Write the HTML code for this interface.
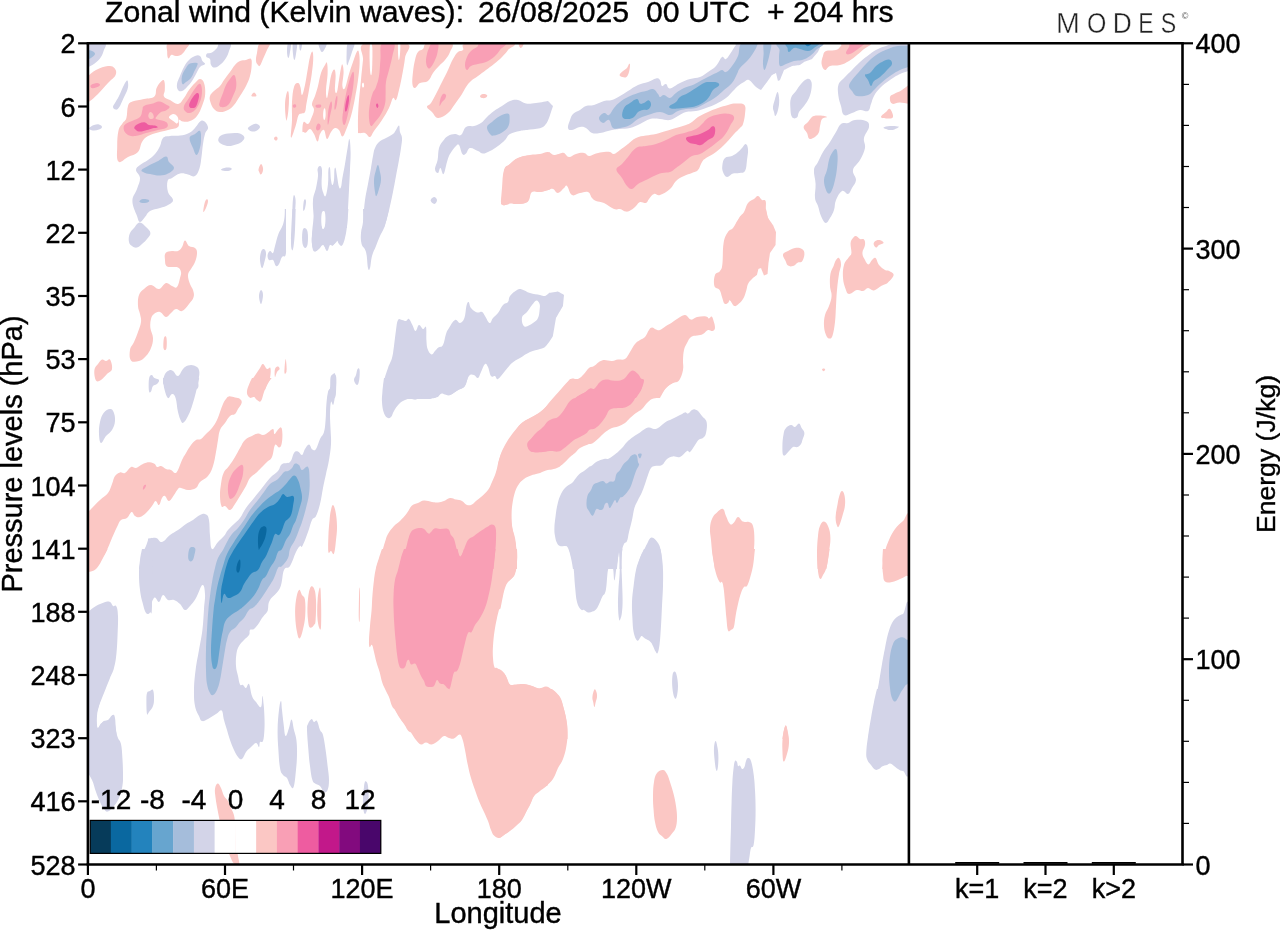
<!DOCTYPE html>
<html><head><meta charset="utf-8"><title>Zonal wind (Kelvin waves)</title>
<style>html,body{margin:0;padding:0;background:#fff;}body{width:1280px;height:930px;overflow:hidden;}svg{display:block;will-change:transform;}text{font-family:"Liberation Sans", sans-serif;fill:#000;stroke:#000;stroke-width:0.4px;}</style></head><body>
<svg width="1280" height="930" viewBox="0 0 1280 930">
<rect width="1280" height="930" fill="#fff"/>
<defs><clipPath id="pc"><rect x="87.9" y="43.3" width="821.0" height="821.2"/></clipPath></defs>
<g clip-path="url(#pc)">
<path d="M86.0 43.0C86.0 43.0 100.9 41.4 104.4 43.0C107.9 44.6 104.6 47.8 103.6 51.0C102.6 54.2 101.8 56.2 99.6 59.0C97.4 61.8 95.1 63.2 92.4 65.0C89.7 66.8 86.0 68.0 86.0 68.0C86.0 68.0 86.0 43.0 86.0 43.0Z" fill="#d3d4e8"/>
<path d="M86.0 78.0C86.0 78.0 91.6 72.4 96.0 70.0C100.4 67.6 104.3 66.4 108.0 66.0C111.7 65.6 112.9 66.2 114.4 68.0C115.9 69.8 116.9 72.0 115.6 75.0C114.3 78.0 111.5 79.2 108.0 83.0C104.5 86.8 101.6 90.4 98.0 94.0C94.4 97.6 92.4 99.2 90.0 101.0C87.6 102.8 86.0 103.0 86.0 103.0C86.0 103.0 86.0 78.0 86.0 78.0Z" fill="#fbc7c4"/>
<path d="M113.0 107.0C113.1 108.3 114.4 109.5 115.6 109.6C116.8 109.7 117.4 109.9 119.0 107.6C120.6 105.3 121.9 101.7 123.6 98.0C125.3 94.3 126.7 92.1 127.6 89.0C128.5 85.9 128.2 84.0 128.0 82.4C127.8 80.8 127.4 80.1 126.4 81.0C125.4 81.9 124.5 84.0 123.0 87.0C121.5 90.0 120.6 92.8 119.0 96.0C117.4 99.2 116.2 100.8 115.0 103.0C113.8 105.2 112.9 105.7 113.0 107.0Z" fill="#d3d4e8"/>
<path d="M89.6 127.6C90.4 126.7 92.1 125.6 94.0 125.0C95.9 124.4 97.4 124.0 99.0 124.4C100.6 124.8 102.0 126.0 102.0 127.0C102.0 128.0 100.6 128.9 99.0 129.6C97.4 130.3 95.8 130.6 94.0 130.6C92.2 130.6 90.9 130.2 90.0 129.6C89.1 129.0 88.8 128.5 89.6 127.6Z" fill="#d3d4e8"/>
<path d="M169.0 43.0C173.2 41.2 184.7 41.7 188.0 43.0C191.3 44.3 186.9 47.3 185.6 49.6C184.3 51.9 183.5 53.1 181.6 54.4C179.7 55.7 178.0 55.9 176.0 56.0C174.0 56.1 173.1 54.3 171.6 54.8C170.1 55.3 169.3 59.0 168.4 58.4C167.5 57.8 167.1 55.1 167.2 52.0C167.3 48.9 164.8 44.8 169.0 43.0Z" fill="#fbc7c4"/>
<path d="M118.4 161.6C116.2 159.4 117.2 152.1 117.2 146.0C117.2 139.9 117.4 135.5 118.4 131.0C119.4 126.5 120.8 126.2 122.4 123.6C124.0 121.0 125.3 121.5 126.4 118.0C127.5 114.5 126.8 109.3 128.0 106.0C129.2 102.7 129.2 103.0 132.4 101.6C135.6 100.2 139.6 100.0 144.0 99.0C148.4 98.0 151.9 98.6 154.4 96.4C156.9 94.2 155.2 91.1 156.6 88.0C158.0 84.9 160.0 82.3 161.6 81.0C163.2 79.7 163.8 79.8 164.4 81.6C165.0 83.4 164.9 87.0 164.8 90.0C164.7 93.0 163.0 94.4 164.0 96.4C165.0 98.4 167.2 98.5 170.0 100.0C172.8 101.5 175.2 104.4 178.0 104.0C180.8 103.6 181.8 100.8 184.0 98.0C186.2 95.2 186.8 93.0 189.0 90.0C191.2 87.0 192.8 85.2 195.0 83.0C197.2 80.8 198.2 79.0 200.0 79.0C201.8 79.0 203.0 80.0 204.0 83.0C205.0 86.0 205.5 89.6 205.2 94.0C204.9 98.4 204.0 100.6 202.4 105.0C200.8 109.4 199.5 112.8 197.0 116.0C194.5 119.2 192.8 119.9 190.0 121.0C187.2 122.1 185.2 121.8 183.0 121.6C180.8 121.4 180.0 118.9 179.0 120.0C178.0 121.1 180.2 125.0 178.0 127.0C175.8 129.0 172.0 128.9 168.0 130.0C164.0 131.1 162.0 131.2 158.0 132.4C154.0 133.6 151.2 134.1 148.0 136.0C144.8 137.9 144.0 138.8 142.0 142.0C140.0 145.2 140.8 149.0 138.0 152.0C135.2 155.0 131.9 155.1 128.0 157.0C124.1 158.9 120.6 163.8 118.4 161.6Z" fill="#fbc7c4"/>
<path d="M178.0 90.0C177.0 88.6 176.6 86.8 177.0 84.0C177.4 81.2 178.6 79.4 180.0 76.0C181.4 72.6 182.2 70.2 184.0 67.0C185.8 63.8 186.8 62.2 189.0 60.0C191.2 57.8 192.8 56.8 195.0 56.0C197.2 55.2 198.5 55.0 200.0 56.0C201.5 57.0 201.4 59.4 202.4 61.0C203.4 62.6 205.5 62.8 205.0 64.0C204.5 65.2 201.8 65.0 200.0 67.0C198.2 69.0 197.6 71.2 196.0 74.0C194.4 76.8 193.8 78.4 192.0 81.0C190.2 83.6 189.0 85.0 187.0 87.0C185.0 89.0 183.8 90.4 182.0 91.0C180.2 91.6 179.0 91.4 178.0 90.0Z" fill="#d3d4e8"/>
<path d="M220.0 43.0C222.7 42.0 228.6 41.4 230.4 43.0C232.2 44.6 229.9 48.0 229.0 51.0C228.1 54.0 227.6 55.4 226.0 58.0C224.4 60.6 223.2 62.1 221.0 64.0C218.8 65.9 217.0 67.4 215.0 67.6C213.0 67.8 212.0 66.7 211.0 65.0C210.0 63.3 210.9 60.6 210.0 59.0C209.1 57.4 207.0 58.1 206.4 57.0C205.8 55.9 205.9 54.5 207.0 53.6C208.1 52.7 210.0 53.5 212.0 52.4C214.0 51.3 215.4 49.9 217.0 48.0C218.6 46.1 217.3 44.0 220.0 43.0Z" fill="#d3d4e8"/>
<path d="M251.0 59.0C252.1 60.2 251.8 62.6 251.6 66.0C251.4 69.4 251.1 72.0 250.0 76.0C248.9 80.0 248.0 82.0 246.0 86.0C244.0 90.0 242.4 92.2 240.0 96.0C237.6 99.8 236.4 102.2 234.0 105.0C231.6 107.8 230.8 108.6 228.0 110.0C225.2 111.4 222.8 112.2 220.0 112.0C217.2 111.8 215.9 111.0 214.0 109.0C212.1 107.0 211.2 104.6 210.4 102.0C209.6 99.4 209.3 98.2 210.0 96.0C210.7 93.8 212.0 93.0 214.0 91.0C216.0 89.0 218.0 88.2 220.0 86.0C222.0 83.8 222.0 82.8 224.0 80.0C226.0 77.2 227.8 75.0 230.0 72.0C232.2 69.0 233.0 67.2 235.0 65.0C237.0 62.8 237.8 62.0 240.0 61.0C242.2 60.0 243.8 60.4 246.0 60.0C248.2 59.6 249.9 57.8 251.0 59.0Z" fill="#fbc7c4"/>
<path d="M260.0 43.0C262.5 41.0 268.2 41.6 269.6 43.0C271.0 44.4 268.3 46.8 267.0 50.0C265.7 53.2 264.4 55.9 263.0 59.0C261.6 62.1 261.0 64.4 260.0 65.6C259.0 66.8 258.8 65.9 258.0 65.0C257.2 64.1 256.2 63.4 256.0 61.0C255.8 58.6 256.2 56.6 257.0 53.0C257.8 49.4 257.5 45.0 260.0 43.0Z" fill="#fbc7c4"/>
<path d="M288.0 43.0C288.8 41.2 290.6 41.2 291.0 43.0C291.4 44.8 290.5 49.0 290.0 52.0C289.5 55.0 289.0 58.0 288.4 58.0C287.8 58.0 287.1 55.0 287.0 52.0C286.9 49.0 287.2 44.8 288.0 43.0Z" fill="#d3d4e8"/>
<path d="M293.0 43.0C293.8 40.8 296.4 40.8 297.0 43.0C297.6 45.2 296.5 50.6 296.0 54.0C295.5 57.4 295.0 60.0 294.4 60.0C293.8 60.0 293.3 57.4 293.0 54.0C292.7 50.6 292.2 45.2 293.0 43.0Z" fill="#d3d4e8"/>
<path d="M299.6 43.0C300.1 41.8 301.7 41.6 302.0 43.0C302.3 44.4 301.5 48.8 301.0 50.0C300.5 51.2 299.9 50.4 299.6 49.0C299.3 47.6 299.1 44.2 299.6 43.0Z" fill="#d3d4e8"/>
<path d="M319.0 43.0C320.3 41.8 325.3 41.7 326.4 43.0C327.5 44.3 325.3 47.8 324.4 49.6C323.5 51.4 322.9 52.1 322.0 52.0C321.1 51.9 320.6 50.8 320.0 49.0C319.4 47.2 317.7 44.2 319.0 43.0Z" fill="#d3d4e8"/>
<path d="M251.4 96.0C250.9 95.3 253.0 92.4 254.0 92.4C255.0 92.4 256.9 95.3 256.4 96.0C255.9 96.7 251.9 96.7 251.4 96.0Z" fill="#fbc7c4"/>
<path d="M218.4 139.0C218.8 137.7 219.1 136.7 221.0 135.6C222.9 134.5 225.0 134.1 228.0 133.6C231.0 133.1 233.4 132.9 236.0 133.0C238.6 133.1 239.3 133.1 241.0 134.0C242.7 134.9 244.3 136.0 244.4 137.6C244.5 139.2 243.3 140.6 241.6 142.0C239.9 143.4 238.5 143.6 236.0 144.4C233.5 145.2 231.7 146.0 229.0 146.0C226.3 146.0 224.4 145.2 222.4 144.4C220.4 143.6 219.8 143.1 219.0 142.0C218.2 140.9 218.0 140.3 218.4 139.0Z" fill="#d3d4e8"/>
<path d="M248.0 128.0C248.5 126.9 250.2 125.8 252.0 125.0C253.8 124.2 255.4 123.6 257.0 124.0C258.6 124.4 260.0 125.7 260.0 127.0C260.0 128.3 258.4 129.5 257.0 130.4C255.6 131.3 254.5 131.6 253.0 131.6C251.5 131.6 250.6 131.1 249.6 130.4C248.6 129.7 247.5 129.1 248.0 128.0Z" fill="#d3d4e8"/>
<path d="M202.0 120.6C204.6 120.4 207.4 124.3 208.0 127.0C208.6 129.7 206.0 130.6 205.0 134.0C204.0 137.4 203.7 139.6 203.0 144.0C202.3 148.4 202.3 151.2 201.6 156.0C200.9 160.8 200.9 164.0 199.6 168.0C198.3 172.0 197.3 174.7 195.0 176.0C192.7 177.3 191.0 174.9 188.0 174.4C185.0 173.9 183.2 172.9 180.0 173.6C176.8 174.3 174.5 176.5 172.0 178.0C169.5 179.5 168.4 178.2 167.6 181.0C166.8 183.8 166.9 188.2 168.0 192.0C169.1 195.8 173.0 197.4 173.0 200.0C173.0 202.6 170.6 203.4 168.0 205.0C165.4 206.6 163.6 206.8 160.0 208.0C156.4 209.2 153.0 209.2 150.0 211.0C147.0 212.8 147.0 214.8 145.0 217.0C143.0 219.2 141.6 222.2 140.0 222.0C138.4 221.8 138.5 220.2 137.0 216.0C135.5 211.8 132.4 206.4 132.4 201.0C132.4 195.6 135.5 193.6 137.0 189.0C138.5 184.4 140.2 181.8 140.0 178.0C139.8 174.2 136.0 172.6 136.0 170.0C136.0 167.4 137.6 167.0 140.0 165.0C142.4 163.0 145.0 162.2 148.0 160.0C151.0 157.8 152.6 156.8 155.0 154.0C157.4 151.2 158.4 149.2 160.0 146.0C161.6 142.8 161.0 140.0 163.0 138.0C165.0 136.0 166.6 136.5 170.0 136.0C173.4 135.5 176.2 136.2 180.0 135.6C183.8 135.0 186.0 134.5 189.0 133.0C192.0 131.5 192.4 130.5 195.0 128.0C197.6 125.5 199.4 120.8 202.0 120.6Z" fill="#d3d4e8"/>
<path d="M203.4 212.0C203.0 211.4 203.8 206.5 204.4 204.0C205.0 201.5 205.7 200.2 206.4 199.6C207.1 199.0 208.0 199.5 208.0 201.0C208.0 202.5 207.3 204.8 206.4 207.0C205.5 209.2 203.8 212.6 203.4 212.0Z" fill="#fbc7c4"/>
<path d="M258.6 169.0C259.0 167.4 260.1 164.2 261.0 164.0C261.9 163.8 262.7 166.3 263.0 168.0C263.3 169.7 262.9 171.1 262.4 172.4C261.9 173.7 261.2 174.5 260.6 174.4C260.0 174.3 259.6 173.1 259.2 172.0C258.8 170.9 258.2 170.6 258.6 169.0Z" fill="#fbc7c4"/>
<path d="M274.0 138.4C274.0 137.6 275.3 136.6 276.0 136.6C276.7 136.6 277.6 137.6 277.6 138.4C277.6 139.2 276.7 140.6 276.0 140.6C275.3 140.6 274.0 139.2 274.0 138.4Z" fill="#fbc7c4"/>
<path d="M221.0 169.6C221.4 168.9 224.9 167.8 227.0 167.6C229.1 167.4 231.0 167.8 231.6 168.4C232.2 169.0 231.3 169.9 230.0 170.4C228.7 170.9 226.8 171.2 225.0 171.0C223.2 170.8 220.6 170.3 221.0 169.6Z" fill="#d3d4e8"/>
<path d="M286.0 119.0C285.6 116.4 285.0 110.6 285.0 106.0C285.0 101.4 285.4 99.0 286.0 96.0C286.6 93.0 287.4 90.6 288.0 91.0C288.6 91.4 288.9 94.2 289.0 98.0C289.1 101.8 288.8 105.8 288.4 110.0C288.0 114.2 287.5 117.2 287.0 119.0C286.5 120.8 286.4 121.6 286.0 119.0Z" fill="#fbc7c4"/>
<path d="M348.0 43.0C349.6 40.8 353.6 41.2 354.4 43.0C355.2 44.8 353.1 48.4 352.0 52.0C350.9 55.6 350.0 58.4 349.0 61.0C348.0 63.6 347.5 66.4 347.0 65.0C346.5 63.6 346.4 58.4 346.6 54.0C346.8 49.6 346.4 45.2 348.0 43.0Z" fill="#d3d4e8"/>
<path d="M291.0 137.6C290.3 136.4 291.8 127.1 292.0 120.0C292.2 112.9 291.6 108.6 292.0 102.0C292.4 95.4 292.8 90.8 294.0 87.0C295.2 83.2 296.7 83.0 298.0 83.0C299.3 83.0 299.6 84.6 300.4 87.0C301.2 89.4 301.1 95.4 302.0 95.0C302.9 94.6 303.9 90.0 305.0 85.0C306.1 80.0 306.6 75.6 307.6 70.0C308.6 64.4 309.0 60.7 310.0 57.0C311.0 53.3 311.8 51.0 312.4 51.6C313.0 52.2 313.4 55.3 313.2 60.0C313.0 64.7 312.4 69.0 311.6 75.0C310.8 81.0 310.0 84.2 309.0 90.0C308.0 95.8 307.2 99.6 306.4 104.0C305.6 108.4 306.0 110.1 305.0 112.0C304.0 113.9 302.9 112.9 301.6 113.6C300.3 114.3 299.6 113.1 298.4 115.6C297.2 118.1 297.1 121.6 295.6 126.0C294.1 130.4 291.7 138.8 291.0 137.6Z" fill="#fbc7c4"/>
<path d="M302.4 131.0C302.4 129.0 302.5 123.4 303.6 122.0C304.7 120.6 306.5 124.6 308.0 124.0C309.5 123.4 309.8 121.8 311.0 119.0C312.2 116.2 313.8 113.0 314.0 110.0C314.2 107.0 311.8 106.8 312.0 104.0C312.2 101.2 313.8 99.6 315.0 96.0C316.2 92.4 316.8 90.6 318.0 86.0C319.2 81.4 319.6 77.2 321.0 73.0C322.4 68.8 323.8 67.0 325.0 65.0C326.2 63.0 326.5 61.2 327.0 63.0C327.5 64.8 327.8 68.6 327.6 74.0C327.4 79.4 326.1 85.2 326.0 90.0C325.9 94.8 326.4 98.4 327.0 98.0C327.6 97.6 328.2 92.4 329.0 88.0C329.8 83.6 330.0 79.7 331.0 76.0C332.0 72.3 333.1 69.8 334.0 69.6C334.9 69.4 335.4 70.9 335.6 75.0C335.8 79.1 334.7 86.6 335.0 90.0C335.3 93.4 336.2 94.0 337.0 92.0C337.8 90.0 338.2 84.8 339.0 80.0C339.8 75.2 340.3 71.1 341.0 68.0C341.7 64.9 341.9 63.6 342.4 64.4C342.9 65.2 343.6 67.7 343.6 72.0C343.6 76.3 342.1 82.8 342.4 86.0C342.7 89.2 343.7 90.4 345.0 88.0C346.3 85.6 347.4 79.2 349.0 74.0C350.6 68.8 351.4 66.5 353.0 62.0C354.6 57.5 355.8 53.4 357.0 51.6C358.2 49.8 358.5 50.5 359.0 53.0C359.5 55.5 359.8 58.6 359.6 64.0C359.4 69.4 358.9 73.2 358.0 80.0C357.1 86.8 356.4 90.8 355.0 98.0C353.6 105.2 352.8 109.6 351.0 116.0C349.2 122.4 347.7 125.9 346.0 130.0C344.3 134.1 343.8 136.4 342.4 136.4C341.0 136.4 340.5 131.7 339.0 130.0C337.5 128.3 336.6 127.6 335.0 128.0C333.4 128.4 332.6 129.8 331.0 132.0C329.4 134.2 328.4 139.4 327.0 139.0C325.6 138.6 325.4 131.0 324.0 130.0C322.6 129.0 321.3 131.7 320.0 134.0C318.7 136.3 318.8 141.6 317.6 141.6C316.4 141.6 315.5 136.5 314.0 134.0C312.5 131.5 311.6 129.3 310.0 129.0C308.4 128.7 307.3 131.8 306.0 132.4C304.7 133.0 304.3 132.3 303.6 132.0C302.9 131.7 302.4 133.0 302.4 131.0Z" fill="#fbc7c4"/>
<path d="M365.0 43.0C373.6 39.6 398.0 40.0 406.0 43.0C414.0 46.0 405.8 51.4 405.0 58.0C404.2 64.6 403.2 69.6 402.0 76.0C400.8 82.4 400.2 85.2 399.0 90.0C397.8 94.8 397.2 98.4 396.0 100.0C394.8 101.6 394.4 96.4 393.0 98.0C391.6 99.6 391.2 103.6 389.0 108.0C386.8 112.4 385.0 115.4 382.0 120.0C379.0 124.6 376.4 127.6 374.0 131.0C371.6 134.4 371.8 136.6 370.0 137.0C368.2 137.4 367.2 133.8 365.0 133.0C362.8 132.2 360.4 133.6 359.0 133.0C357.6 132.4 358.1 135.0 358.0 130.0C357.9 125.0 357.8 118.0 358.4 108.0C359.0 98.0 360.1 89.6 361.0 80.0C361.9 70.4 362.2 67.4 363.0 60.0C363.8 52.6 356.4 46.4 365.0 43.0Z" fill="#fbc7c4"/>
<path d="M428.0 43.0C433.6 41.8 446.6 41.2 451.0 43.0C455.4 44.8 451.2 48.6 450.0 52.0C448.8 55.4 447.2 57.2 445.0 60.0C442.8 62.8 441.4 63.4 439.0 66.0C436.6 68.6 435.2 70.0 433.0 73.0C430.8 76.0 430.6 79.0 428.0 81.0C425.4 83.0 422.6 81.6 420.0 83.0C417.4 84.4 416.5 87.8 415.0 88.0C413.5 88.2 412.8 87.2 412.4 84.0C412.0 80.8 412.5 76.8 413.0 72.0C413.5 67.2 414.0 64.0 415.0 60.0C416.0 56.0 416.4 54.2 418.0 52.0C419.6 49.8 421.0 50.8 423.0 49.0C425.0 47.2 422.4 44.2 428.0 43.0Z" fill="#fbc7c4"/>
<path d="M468.0 43.0C477.8 41.6 504.0 41.6 512.0 43.0C520.0 44.4 510.0 47.2 508.0 50.0C506.0 52.8 504.8 54.2 502.0 57.0C499.2 59.8 497.2 61.4 494.0 64.0C490.8 66.6 489.2 67.6 486.0 70.0C482.8 72.4 481.0 73.8 478.0 76.0C475.0 78.2 473.4 78.8 471.0 81.0C468.6 83.2 467.8 84.4 466.0 87.0C464.2 89.6 464.2 90.6 462.0 94.0C459.8 97.4 457.8 100.2 455.0 104.0C452.2 107.8 451.4 110.2 448.0 113.0C444.6 115.8 441.2 118.2 438.0 118.0C434.8 117.8 434.2 114.2 432.0 112.0C429.8 109.8 427.2 108.8 427.0 107.0C426.8 105.2 429.2 105.6 431.0 103.0C432.8 100.4 433.8 98.2 436.0 94.0C438.2 89.8 439.6 86.8 442.0 82.0C444.4 77.2 445.8 74.6 448.0 70.0C450.2 65.4 451.0 62.6 453.0 59.0C455.0 55.4 456.0 53.8 458.0 52.0C460.0 50.2 461.0 51.8 463.0 50.0C465.0 48.2 458.2 44.4 468.0 43.0Z" fill="#fbc7c4"/>
<path d="M519.0 43.0C519.8 42.2 523.1 42.1 523.6 43.0C524.1 43.9 522.4 46.8 521.6 47.6C520.8 48.4 520.1 47.9 519.6 47.0C519.1 46.1 518.2 43.8 519.0 43.0Z" fill="#fbc7c4"/>
<path d="M480.0 96.0C480.2 95.2 481.6 94.2 483.0 94.0C484.4 93.8 486.4 94.3 487.0 95.0C487.6 95.7 487.0 97.0 486.0 97.6C485.0 98.2 483.2 98.3 482.0 98.0C480.8 97.7 479.8 96.8 480.0 96.0Z" fill="#fbc7c4"/>
<path d="M548.0 101.0C548.0 101.0 540.4 102.5 536.0 103.0C531.6 103.5 529.6 104.2 526.0 103.6C522.4 103.0 521.2 100.5 518.0 100.0C514.8 99.5 513.2 99.8 510.0 101.0C506.8 102.2 505.2 104.0 502.0 106.0C498.8 108.0 497.0 108.8 494.0 111.0C491.0 113.2 489.6 114.6 487.0 117.0C484.4 119.4 483.6 121.2 481.0 123.0C478.4 124.8 477.0 125.2 474.0 126.0C471.0 126.8 468.6 125.2 466.0 127.0C463.4 128.8 463.2 133.6 461.0 135.0C458.8 136.4 457.6 133.8 455.0 134.0C452.4 134.2 450.4 134.6 448.0 136.0C445.6 137.4 444.8 138.6 443.0 141.0C441.2 143.4 440.1 144.2 439.0 148.0C437.9 151.8 438.4 155.8 437.6 160.0C436.8 164.2 434.9 166.4 435.0 169.0C435.1 171.6 436.9 173.2 438.0 173.0C439.1 172.8 439.3 167.8 440.4 168.0C441.5 168.2 442.3 175.2 443.6 174.0C444.9 172.8 445.7 166.0 447.0 162.0C448.3 158.0 448.2 157.2 450.0 154.0C451.8 150.8 454.2 147.8 456.0 146.0C457.8 144.2 457.7 143.4 459.0 145.0C460.3 146.6 461.0 152.3 462.4 154.0C463.8 155.7 464.5 154.8 466.0 153.6C467.5 152.4 467.6 148.5 470.0 148.0C472.4 147.5 475.4 149.9 478.0 151.0C480.6 152.1 480.6 153.6 483.0 153.6C485.4 153.6 487.0 152.5 490.0 151.0C493.0 149.5 495.0 148.2 498.0 146.0C501.0 143.8 502.6 142.4 505.0 140.0C507.4 137.6 507.0 135.8 510.0 134.0C513.0 132.2 516.0 131.9 520.0 131.0C524.0 130.1 525.4 130.4 530.0 129.6C534.6 128.8 539.2 129.3 543.0 127.0C546.8 124.7 549.0 118.0 549.0 118.0C549.0 118.0 553.0 106.0 553.0 106.0C553.0 106.0 548.0 101.0 548.0 101.0Z" fill="#d3d4e8"/>
<path d="M399.0 125.6C399.8 126.0 399.4 129.5 400.0 132.0C400.6 134.5 401.8 134.8 402.0 138.0C402.2 141.2 401.6 143.6 401.0 148.0C400.4 152.4 400.0 154.4 399.0 160.0C398.0 165.6 397.2 169.6 396.0 176.0C394.8 182.4 394.2 186.0 393.0 192.0C391.8 198.0 391.2 200.8 390.0 206.0C388.8 211.2 388.2 213.6 387.0 218.0C385.8 222.4 384.0 228.0 384.0 228.0C384.0 228.0 363.0 228.0 363.0 228.0C363.0 228.0 363.2 221.6 363.6 216.0C364.0 210.4 364.1 206.4 365.0 200.0C365.9 193.6 366.8 190.4 368.0 184.0C369.2 177.6 370.0 173.6 371.0 168.0C372.0 162.4 372.2 160.0 373.0 156.0C373.8 152.0 373.8 150.8 375.0 148.0C376.2 145.2 376.8 144.0 379.0 142.0C381.2 140.0 383.2 139.6 386.0 138.0C388.8 136.4 391.0 135.6 393.0 134.0C395.0 132.4 394.8 131.7 396.0 130.0C397.2 128.3 398.2 125.2 399.0 125.6Z" fill="#d3d4e8"/>
<path d="M349.4 139.0C350.0 139.8 350.5 145.8 350.6 152.0C350.7 158.2 350.3 162.4 350.0 170.0C349.7 177.6 349.4 182.0 349.0 190.0C348.6 198.0 348.4 202.4 348.0 210.0C347.6 217.6 347.0 228.0 347.0 228.0C347.0 228.0 314.0 228.0 314.0 228.0C314.0 228.0 313.8 221.6 313.6 216.0C313.4 210.4 312.5 205.6 313.0 200.0C313.5 194.4 315.0 192.8 316.0 188.0C317.0 183.2 317.7 179.8 318.0 176.0C318.3 172.2 317.2 171.0 317.6 169.0C318.0 167.0 319.1 165.8 320.0 166.0C320.9 166.2 321.7 166.4 322.0 170.0C322.3 173.6 321.4 179.6 321.6 184.0C321.8 188.4 322.2 189.6 323.0 192.0C323.8 194.4 324.6 197.6 325.6 196.0C326.6 194.4 327.4 189.2 328.0 184.0C328.6 178.8 328.0 173.2 328.4 170.0C328.8 166.8 329.5 166.0 330.0 168.0C330.5 170.0 330.5 176.6 331.0 180.0C331.5 183.4 331.8 185.0 332.4 185.0C333.0 185.0 333.6 183.0 334.0 180.0C334.4 177.0 334.1 172.4 334.4 170.0C334.7 167.6 335.1 166.8 335.6 168.0C336.1 169.2 336.3 172.2 337.0 176.0C337.7 179.8 338.2 184.8 339.0 187.0C339.8 189.2 340.3 188.8 341.0 187.0C341.7 185.2 341.6 182.6 342.4 178.0C343.2 173.4 344.0 170.0 345.0 164.0C346.0 158.0 346.7 153.0 347.6 148.0C348.5 143.0 348.8 138.2 349.4 139.0Z" fill="#d3d4e8"/>
<path d="M292.4 228.0C292.4 228.0 292.2 216.5 292.4 210.0C292.6 203.5 293.0 197.6 293.6 195.6C294.2 193.6 295.3 196.3 295.6 200.0C295.9 203.7 295.2 208.4 295.0 214.0C294.8 219.6 294.4 228.0 294.4 228.0C294.4 228.0 292.4 228.0 292.4 228.0Z" fill="#d3d4e8"/>
<path d="M303.2 210.0C303.0 208.3 303.4 202.2 304.0 200.4C304.6 198.6 305.8 199.3 306.0 201.0C306.2 202.7 305.4 207.2 304.8 209.0C304.2 210.8 303.4 211.7 303.2 210.0Z" fill="#d3d4e8"/>
<path d="M430.6 200.6C430.5 199.2 432.7 197.1 434.0 197.0C435.3 196.9 436.9 198.6 437.0 200.0C437.1 201.4 435.7 203.9 434.4 204.0C433.1 204.1 430.7 202.0 430.6 200.6Z" fill="#d3d4e8"/>
<path d="M550.0 152.4C550.0 152.4 540.4 154.4 536.0 155.0C531.6 155.6 531.6 155.0 528.0 155.6C524.4 156.2 521.6 156.3 518.0 158.0C514.4 159.7 512.7 161.6 510.0 164.0C507.3 166.4 505.7 166.0 504.4 170.0C503.1 174.0 504.1 178.8 503.6 184.0C503.1 189.2 502.5 192.4 502.0 196.0C501.5 199.6 500.6 200.1 501.0 202.0C501.4 203.9 502.6 205.4 504.0 205.6C505.4 205.8 505.6 203.3 508.0 203.0C510.4 202.7 512.6 204.0 516.0 204.0C519.4 204.0 522.4 203.8 525.0 203.0C527.6 202.2 527.6 202.2 529.0 200.0C530.4 197.8 529.8 193.6 532.0 192.0C534.2 190.4 536.4 192.5 540.0 192.0C543.6 191.5 550.0 189.6 550.0 189.6C550.0 189.6 550.0 152.4 550.0 152.4Z" fill="#fbc7c4"/>
<path d="M619.6 75.0C619.7 73.8 621.5 72.4 623.0 71.0C624.5 69.6 625.8 69.4 627.0 68.0C628.2 66.6 628.4 64.6 629.0 64.0C629.6 63.4 630.0 63.4 630.0 65.0C630.0 66.6 629.7 69.6 629.0 72.0C628.3 74.4 627.7 76.0 626.4 77.0C625.1 78.0 623.8 77.4 622.4 77.0C621.0 76.6 619.5 76.2 619.6 75.0Z" fill="#fbc7c4"/>
<path d="M568.0 128.0C567.6 126.0 569.0 122.8 570.0 120.0C571.0 117.2 571.0 116.0 573.0 114.0C575.0 112.0 577.4 111.6 580.0 110.0C582.6 108.4 583.2 107.0 586.0 106.0C588.8 105.0 590.4 106.0 594.0 105.0C597.6 104.0 600.4 102.0 604.0 101.0C607.6 100.0 608.8 101.0 612.0 100.0C615.2 99.0 616.8 97.8 620.0 96.0C623.2 94.2 624.4 93.2 628.0 91.0C631.6 88.8 634.0 86.8 638.0 85.0C642.0 83.2 644.4 83.3 648.0 82.0C651.6 80.7 653.6 78.8 656.0 78.4C658.4 78.0 658.8 78.5 660.0 80.0C661.2 81.5 660.8 85.2 662.0 86.0C663.2 86.8 664.4 83.5 666.0 84.0C667.6 84.5 667.2 88.6 670.0 88.4C672.8 88.2 676.0 84.9 680.0 83.0C684.0 81.1 686.0 80.2 690.0 79.0C694.0 77.8 696.4 78.4 700.0 77.0C703.6 75.6 704.8 74.2 708.0 72.0C711.2 69.8 713.2 69.0 716.0 66.0C718.8 63.0 720.0 58.4 722.0 57.0C724.0 55.6 724.0 60.2 726.0 59.0C728.0 57.8 730.0 53.8 732.0 51.0C734.0 48.2 734.4 46.6 736.0 45.0C737.6 43.4 722.8 43.4 740.0 43.0C757.2 42.6 822.0 43.0 822.0 43.0C822.0 43.0 818.0 52.0 818.0 52.0C818.0 52.0 812.0 59.0 812.0 59.0C812.0 59.0 804.0 62.0 804.0 62.0C804.0 62.0 800.0 65.0 800.0 65.0C800.0 65.0 792.0 66.0 792.0 66.0C792.0 66.0 784.0 70.0 784.0 70.0C784.0 70.0 780.0 80.0 780.0 80.0C780.0 80.0 778.0 81.0 778.0 81.0C778.0 81.0 776.0 73.0 776.0 73.0C776.0 73.0 772.0 75.0 772.0 75.0C772.0 75.0 767.0 82.0 767.0 82.0C767.0 82.0 761.0 90.0 761.0 90.0C761.0 90.0 758.4 89.0 756.0 87.0C753.6 85.0 751.4 81.0 749.0 80.0C746.6 79.0 746.2 80.8 744.0 82.0C741.8 83.2 740.0 84.4 738.0 86.0C736.0 87.6 736.4 87.6 734.0 90.0C731.6 92.4 729.6 95.2 726.0 98.0C722.4 100.8 720.0 102.0 716.0 104.0C712.0 106.0 710.0 106.6 706.0 108.0C702.0 109.4 700.0 110.2 696.0 111.0C692.0 111.8 689.6 111.0 686.0 112.0C682.4 113.0 681.2 114.4 678.0 116.0C674.8 117.6 673.6 119.4 670.0 120.0C666.4 120.6 664.0 119.2 660.0 119.0C656.0 118.8 654.0 118.0 650.0 119.0C646.0 120.0 644.0 122.2 640.0 124.0C636.0 125.8 634.0 127.0 630.0 128.0C626.0 129.0 623.6 128.6 620.0 129.0C616.4 129.4 616.0 129.2 612.0 130.0C608.0 130.8 604.0 132.4 600.0 133.0C596.0 133.6 594.8 134.0 592.0 133.0C589.2 132.0 588.4 129.2 586.0 128.0C583.6 126.8 582.8 126.6 580.0 127.0C577.2 127.4 574.4 129.8 572.0 130.0C569.6 130.2 568.4 130.0 568.0 128.0Z" fill="#d3d4e8"/>
<path d="M501.0 203.0C501.0 199.7 501.4 194.6 502.0 188.0C502.6 181.4 502.4 174.8 504.0 170.0C505.6 165.2 507.2 166.4 510.0 164.0C512.8 161.6 514.0 159.8 518.0 158.0C522.0 156.2 525.6 155.8 530.0 155.0C534.4 154.2 536.4 154.6 540.0 154.0C543.6 153.4 545.2 151.8 548.0 152.0C550.8 152.2 551.6 154.7 554.0 155.0C556.4 155.3 558.0 154.0 560.0 153.6C562.0 153.2 562.2 152.3 564.0 153.0C565.8 153.7 566.6 156.8 569.0 157.0C571.4 157.2 573.0 154.8 576.0 154.0C579.0 153.2 581.4 152.6 584.0 153.0C586.6 153.4 586.6 155.9 589.0 156.0C591.4 156.1 593.0 154.4 596.0 153.6C599.0 152.8 601.2 152.3 604.0 152.0C606.8 151.7 608.0 151.6 610.0 152.0C612.0 152.4 612.0 154.4 614.0 154.0C616.0 153.6 617.2 152.0 620.0 150.0C622.8 148.0 624.8 146.4 628.0 144.0C631.2 141.6 632.4 139.7 636.0 138.0C639.6 136.3 642.0 136.4 646.0 135.6C650.0 134.8 652.0 134.9 656.0 134.0C660.0 133.1 662.0 132.2 666.0 131.0C670.0 129.8 672.0 129.2 676.0 128.0C680.0 126.8 682.8 126.2 686.0 125.0C689.2 123.8 689.6 123.6 692.0 122.0C694.4 120.4 694.8 119.0 698.0 117.0C701.2 115.0 704.0 113.8 708.0 112.0C712.0 110.2 714.0 109.4 718.0 108.0C722.0 106.6 724.4 105.9 728.0 105.0C731.6 104.1 732.7 103.6 736.0 103.6C739.3 103.6 742.6 102.9 744.4 105.0C746.2 107.1 745.3 110.2 745.0 114.0C744.7 117.8 744.0 121.2 743.0 124.0C742.0 126.8 741.8 126.0 740.0 128.0C738.2 130.0 736.8 131.0 734.0 134.0C731.2 137.0 729.6 139.4 726.0 143.0C722.4 146.6 720.0 149.0 716.0 152.0C712.0 155.0 708.8 156.0 706.0 158.0C703.2 160.0 703.6 159.6 702.0 162.0C700.4 164.4 700.0 167.8 698.0 170.0C696.0 172.2 694.8 171.8 692.0 173.0C689.2 174.2 687.2 174.4 684.0 176.0C680.8 177.6 678.8 178.4 676.0 181.0C673.2 183.6 673.2 186.2 670.0 189.0C666.8 191.8 663.2 194.0 660.0 195.0C656.8 196.0 656.2 193.2 654.0 194.0C651.8 194.8 650.6 197.2 649.0 199.0C647.4 200.8 647.8 202.4 646.0 203.0C644.2 203.6 642.0 201.4 640.0 202.0C638.0 202.6 637.8 204.4 636.0 206.0C634.2 207.6 633.0 208.9 631.0 210.0C629.0 211.1 628.2 211.8 626.0 211.6C623.8 211.4 622.4 209.5 620.0 209.0C617.6 208.5 617.2 210.2 614.0 209.0C610.8 207.8 607.6 204.6 604.0 203.0C600.4 201.4 598.4 202.0 596.0 201.0C593.6 200.0 593.6 199.8 592.0 198.0C590.4 196.2 590.4 193.0 588.0 192.0C585.6 191.0 583.2 192.4 580.0 193.0C576.8 193.6 574.6 196.4 572.0 195.0C569.4 193.6 568.6 187.4 567.0 186.0C565.4 184.6 565.8 186.6 564.0 188.0C562.2 189.4 560.2 192.8 558.0 193.0C555.8 193.2 555.0 189.6 553.0 189.0C551.0 188.4 550.6 189.4 548.0 190.0C545.4 190.6 543.2 191.8 540.0 192.0C536.8 192.2 534.2 190.0 532.0 191.0C529.8 192.0 530.0 194.8 529.0 197.0C528.0 199.2 528.8 200.6 527.0 202.0C525.2 203.4 523.0 203.8 520.0 204.0C517.0 204.2 514.8 202.8 512.0 203.0C509.2 203.2 508.0 204.7 506.0 205.0C504.0 205.3 503.0 204.8 502.0 204.4C501.0 204.0 501.0 206.3 501.0 203.0Z" fill="#fbc7c4"/>
<path d="M745.6 144.0C746.8 144.2 747.7 145.8 748.0 149.0C748.3 152.2 747.6 155.6 747.0 160.0C746.4 164.4 746.6 168.4 745.0 171.0C743.4 173.6 741.4 172.5 739.0 173.0C736.6 173.5 735.4 172.8 733.0 173.6C730.6 174.4 729.0 177.3 727.0 177.0C725.0 176.7 723.9 174.4 723.0 172.0C722.1 169.6 722.0 167.8 722.4 165.0C722.8 162.2 723.1 159.8 725.0 158.0C726.9 156.2 729.4 157.2 732.0 156.0C734.6 154.8 736.0 153.6 738.0 152.0C740.0 150.4 740.5 149.6 742.0 148.0C743.5 146.4 744.4 143.8 745.6 144.0Z" fill="#d3d4e8"/>
<path d="M844.0 43.0C849.8 42.4 866.0 41.8 870.0 43.0C874.0 44.2 866.6 46.6 864.0 49.0C861.4 51.4 860.0 52.6 857.0 55.0C854.0 57.4 852.4 59.0 849.0 61.0C845.6 63.0 843.8 64.0 840.0 65.0C836.2 66.0 833.0 65.0 830.0 66.0C827.0 67.0 826.7 70.4 825.0 70.0C823.3 69.6 822.0 66.8 821.6 64.0C821.2 61.2 822.1 58.6 823.0 56.0C823.9 53.4 823.4 52.2 826.0 51.0C828.6 49.8 833.0 51.0 836.0 50.0C839.0 49.0 839.4 47.4 841.0 46.0C842.6 44.6 838.2 43.6 844.0 43.0Z" fill="#fbc7c4"/>
<path d="M886.0 46.0C889.6 44.8 890.8 43.6 896.0 43.0C901.2 42.4 912.0 43.0 912.0 43.0C912.0 43.0 912.0 70.0 912.0 70.0C912.0 70.0 904.4 72.0 900.0 74.0C895.6 76.0 894.0 77.2 890.0 80.0C886.0 82.8 883.2 84.8 880.0 88.0C876.8 91.2 875.8 92.8 874.0 96.0C872.2 99.2 872.2 101.0 871.0 104.0C869.8 107.0 870.2 109.8 868.0 111.0C865.8 112.2 863.2 109.6 860.0 110.0C856.8 110.4 855.2 112.0 852.0 113.0C848.8 114.0 846.2 116.4 844.0 115.0C841.8 113.6 842.1 109.8 841.0 106.0C839.9 102.2 838.9 100.2 838.4 96.0C837.9 91.8 837.3 88.6 838.4 85.0C839.5 81.4 841.3 81.0 844.0 78.0C846.7 75.0 848.8 73.2 852.0 70.0C855.2 66.8 856.4 65.2 860.0 62.0C863.6 58.8 866.4 56.6 870.0 54.0C873.6 51.4 874.8 50.6 878.0 49.0C881.2 47.4 882.4 47.2 886.0 46.0Z" fill="#d3d4e8"/>
<path d="M912.0 82.0C912.0 82.0 905.6 87.6 902.0 90.0C898.4 92.4 896.4 92.6 894.0 94.0C891.6 95.4 890.4 95.1 890.0 97.0C889.6 98.9 890.0 102.5 892.0 103.6C894.0 104.7 896.0 102.2 900.0 102.4C904.0 102.6 912.0 104.4 912.0 104.4C912.0 104.4 912.0 82.0 912.0 82.0Z" fill="#fbc7c4"/>
<path d="M881.0 117.0C880.8 115.7 884.2 113.6 886.0 112.0C887.8 110.4 888.6 108.0 890.0 109.0C891.4 110.0 893.6 115.1 893.0 117.0C892.4 118.9 889.4 118.4 887.0 118.4C884.6 118.4 881.2 118.3 881.0 117.0Z" fill="#fbc7c4"/>
<path d="M883.6 127.4C884.4 126.8 887.0 126.2 890.0 126.0C893.0 125.8 897.6 126.0 898.6 126.6C899.6 127.2 896.7 128.5 895.0 129.2C893.3 129.9 891.8 130.0 890.0 130.0C888.2 130.0 887.3 129.5 886.0 129.0C884.7 128.5 882.8 128.0 883.6 127.4Z" fill="#d3d4e8"/>
<path d="M773.0 107.0C773.2 104.4 774.1 102.0 775.0 99.0C775.9 96.0 776.8 91.8 777.6 92.0C778.4 92.2 779.1 96.4 779.2 100.0C779.3 103.6 778.8 106.8 778.0 110.0C777.2 113.2 776.2 115.6 775.4 116.0C774.6 116.4 774.5 113.8 774.0 112.0C773.5 110.2 772.8 109.6 773.0 107.0Z" fill="#d3d4e8"/>
<path d="M807.0 79.0C809.0 78.4 810.1 79.2 811.0 81.0C811.9 82.8 812.0 84.6 811.6 88.0C811.2 91.4 810.5 94.4 809.0 98.0C807.5 101.6 806.0 103.2 804.0 106.0C802.0 108.8 800.4 109.7 799.0 112.0C797.6 114.3 798.4 116.6 797.0 117.6C795.6 118.6 793.3 118.9 792.0 117.0C790.7 115.1 790.6 111.8 790.4 108.0C790.2 104.2 789.9 101.4 791.0 98.0C792.1 94.6 794.0 93.8 796.0 91.0C798.0 88.2 798.8 86.4 801.0 84.0C803.2 81.6 805.0 79.6 807.0 79.0Z" fill="#d3d4e8"/>
<path d="M814.0 116.0C815.8 115.5 817.4 115.4 820.0 115.6C822.6 115.8 826.6 116.3 827.0 117.0C827.4 117.7 823.4 117.2 822.0 119.0C820.6 120.8 820.8 123.0 820.0 126.0C819.2 129.0 820.0 131.4 818.0 134.0C816.0 136.6 812.2 139.2 810.0 139.0C807.8 138.8 808.3 135.4 807.0 133.0C805.7 130.6 803.4 129.2 803.6 127.0C803.8 124.8 806.5 123.8 808.0 122.0C809.5 120.2 809.8 119.2 811.0 118.0C812.2 116.8 812.2 116.5 814.0 116.0Z" fill="#fbc7c4"/>
<path d="M855.0 120.0C858.6 119.6 863.2 119.6 866.0 121.0C868.8 122.4 869.4 123.6 869.0 127.0C868.6 130.4 864.8 133.8 864.0 138.0C863.2 142.2 865.8 143.6 865.0 148.0C864.2 152.4 862.4 155.6 860.0 160.0C857.6 164.4 853.8 166.0 853.0 170.0C852.2 174.0 856.2 176.4 856.0 180.0C855.8 183.6 853.6 185.2 852.0 188.0C850.4 190.8 850.0 193.4 848.0 194.0C846.0 194.6 844.4 189.8 842.0 191.0C839.6 192.2 837.6 196.2 836.0 200.0C834.4 203.8 835.2 206.4 834.0 210.0C832.8 213.6 831.7 215.4 830.0 218.0C828.3 220.6 827.4 223.4 825.6 223.0C823.8 222.6 822.5 219.4 821.0 216.0C819.5 212.6 819.2 209.6 818.0 206.0C816.8 202.4 815.5 202.4 815.0 198.0C814.5 193.6 815.8 189.6 815.6 184.0C815.4 178.4 813.5 174.4 814.0 170.0C814.5 165.6 816.2 165.6 818.0 162.0C819.8 158.4 820.6 156.0 823.0 152.0C825.4 148.0 827.4 146.0 830.0 142.0C832.6 138.0 833.8 135.6 836.0 132.0C838.2 128.4 838.6 125.8 841.0 124.0C843.4 122.2 845.2 123.8 848.0 123.0C850.8 122.2 851.4 120.4 855.0 120.0Z" fill="#d3d4e8"/>
<path d="M758.0 196.0C759.6 196.2 760.5 199.0 762.0 200.0C763.5 201.0 764.8 199.0 765.6 201.0C766.4 203.0 765.5 206.6 766.0 210.0C766.5 213.4 766.9 215.0 768.0 218.0C769.1 221.0 771.2 222.8 771.6 225.0C772.0 227.2 770.0 229.0 770.0 229.0C770.0 229.0 734.0 229.0 734.0 229.0C734.0 229.0 737.0 221.4 739.0 218.0C741.0 214.6 742.2 215.0 744.0 212.0C745.8 209.0 746.0 205.6 748.0 203.0C750.0 200.4 752.0 200.4 754.0 199.0C756.0 197.6 756.4 195.8 758.0 196.0Z" fill="#fbc7c4"/>
<path d="M139.6 222.4C142.0 222.2 143.8 224.9 146.0 227.0C148.2 229.1 150.2 230.6 150.4 233.0C150.6 235.4 148.7 236.8 147.0 239.0C145.3 241.2 144.0 242.3 142.0 244.0C140.0 245.7 139.0 247.2 137.0 247.6C135.0 248.0 133.6 247.1 132.0 246.0C130.4 244.9 129.5 244.4 129.0 242.0C128.5 239.6 128.6 236.8 129.6 234.0C130.6 231.2 132.0 230.3 134.0 228.0C136.0 225.7 137.2 222.6 139.6 222.4Z" fill="#d3d4e8"/>
<path d="M185.0 240.4C186.4 240.2 187.0 244.5 189.0 246.0C191.0 247.5 193.4 246.6 195.0 248.0C196.6 249.4 197.0 250.2 197.0 253.0C197.0 255.8 196.2 258.8 195.0 262.0C193.8 265.2 192.4 266.4 191.0 269.0C189.6 271.6 188.2 272.0 188.0 275.0C187.8 278.0 189.0 281.0 190.0 284.0C191.0 287.0 192.3 287.4 193.0 290.0C193.7 292.6 194.4 294.2 193.6 297.0C192.8 299.8 191.3 301.2 189.0 304.0C186.7 306.8 184.6 310.0 182.0 311.0C179.4 312.0 178.2 308.6 176.0 309.0C173.8 309.4 173.0 311.4 171.0 313.0C169.0 314.6 168.2 317.2 166.0 317.0C163.8 316.8 162.4 312.6 160.0 312.0C157.6 311.4 155.8 312.6 154.0 314.0C152.2 315.4 151.7 316.2 151.0 319.0C150.3 321.8 150.0 324.2 150.4 328.0C150.8 331.8 152.9 334.0 153.0 338.0C153.1 342.0 152.4 344.4 151.0 348.0C149.6 351.6 148.4 353.4 146.0 356.0C143.6 358.6 142.0 360.1 139.0 361.0C136.0 361.9 132.8 362.6 131.0 360.4C129.2 358.2 129.4 353.7 130.0 350.0C130.6 346.3 132.4 345.6 134.0 342.0C135.6 338.4 136.6 336.0 138.0 332.0C139.4 328.0 140.6 325.6 141.0 322.0C141.4 318.4 140.6 317.2 140.0 314.0C139.4 310.8 138.2 309.8 138.0 306.0C137.8 302.2 137.8 298.4 139.0 295.0C140.2 291.6 141.6 291.0 144.0 289.0C146.4 287.0 148.0 285.0 151.0 285.0C154.0 285.0 156.0 289.4 159.0 289.0C162.0 288.6 163.4 283.6 166.0 283.0C168.6 282.4 169.8 285.2 172.0 286.0C174.2 286.8 175.4 288.6 177.0 287.0C178.6 285.4 179.2 281.0 180.0 278.0C180.8 275.0 181.4 274.1 181.0 272.0C180.6 269.9 179.8 268.6 178.0 267.6C176.2 266.6 174.3 267.3 172.0 267.0C169.7 266.7 167.8 267.4 166.4 266.0C165.0 264.6 165.2 262.6 165.0 260.0C164.8 257.4 164.2 254.8 165.6 253.0C167.0 251.2 169.5 251.4 172.0 251.0C174.5 250.6 176.0 251.8 178.0 251.0C180.0 250.2 180.6 249.1 182.0 247.0C183.4 244.9 183.6 240.6 185.0 240.4Z" fill="#fbc7c4"/>
<path d="M163.6 348.6C163.1 346.5 163.4 340.2 164.0 338.0C164.6 335.8 165.9 335.5 166.4 337.6C166.9 339.7 167.0 346.4 166.4 348.6C165.8 350.8 164.1 350.7 163.6 348.6Z" fill="#fbc7c4"/>
<path d="M94.4 370.0C94.8 366.7 96.5 366.1 98.0 364.0C99.5 361.9 100.4 360.2 102.0 359.6C103.6 359.0 104.4 361.0 106.0 361.0C107.6 361.0 108.8 358.0 110.0 359.6C111.2 361.2 112.6 366.1 112.0 369.0C111.4 371.9 109.2 371.8 107.0 374.0C104.8 376.2 103.2 378.7 101.0 380.0C98.8 381.3 97.3 382.4 96.0 380.4C94.7 378.4 94.0 373.3 94.4 370.0Z" fill="#fbc7c4"/>
<path d="M149.0 391.0C148.6 388.5 148.5 382.2 149.0 379.0C149.5 375.8 150.5 375.2 151.6 375.0C152.7 374.8 152.9 377.0 154.4 378.0C155.9 379.0 158.5 378.8 159.0 380.0C159.5 381.2 158.2 382.8 157.0 384.0C155.8 385.2 154.2 384.5 153.0 386.0C151.8 387.5 151.8 390.6 151.0 391.6C150.2 392.6 149.4 393.5 149.0 391.0Z" fill="#d3d4e8"/>
<path d="M163.0 382.0C163.0 379.6 163.8 376.3 165.0 374.0C166.2 371.7 167.4 371.0 169.0 370.4C170.6 369.8 171.2 369.9 173.0 371.0C174.8 372.1 176.0 376.4 178.0 376.0C180.0 375.6 181.0 371.1 183.0 369.0C185.0 366.9 185.8 366.3 188.0 365.6C190.2 364.9 191.8 364.7 194.0 365.6C196.2 366.5 198.1 367.1 199.0 370.0C199.9 372.9 199.2 376.0 198.4 380.0C197.6 384.0 200.7 388.0 195.0 390.0C189.3 392.0 176.0 390.8 170.0 390.0C164.0 389.2 166.4 387.6 165.0 386.0C163.6 384.4 163.0 384.4 163.0 382.0Z" fill="#d3d4e8"/>
<path d="M263.0 364.0C264.4 364.2 265.5 368.2 267.0 369.0C268.5 369.8 269.8 366.2 270.4 368.0C271.0 369.8 270.7 374.6 270.0 378.0C269.3 381.4 268.0 382.6 267.0 385.0C266.0 387.4 265.0 390.0 265.0 390.0C265.0 390.0 248.4 390.0 248.4 390.0C248.4 390.0 249.5 385.2 251.0 382.0C252.5 378.8 254.2 376.8 256.0 374.0C257.8 371.2 258.6 370.0 260.0 368.0C261.4 366.0 261.6 363.8 263.0 364.0Z" fill="#fbc7c4"/>
<path d="M275.0 377.0C274.6 376.4 274.4 371.1 275.0 369.0C275.6 366.9 277.1 366.4 278.0 366.4C278.9 366.4 279.8 367.9 279.6 369.0C279.4 370.1 277.9 370.4 277.0 372.0C276.1 373.6 275.4 377.6 275.0 377.0Z" fill="#fbc7c4"/>
<path d="M284.4 372.0C284.3 369.2 285.2 359.8 285.6 359.0C286.0 358.2 286.5 365.2 286.6 368.0C286.7 370.8 286.4 372.2 286.0 373.0C285.6 373.8 284.5 374.8 284.4 372.0Z" fill="#fbc7c4"/>
<path d="M260.0 260.0C259.8 256.8 260.3 254.2 261.0 252.0C261.7 249.8 262.6 248.8 263.6 249.0C264.6 249.2 265.8 250.4 266.0 253.0C266.2 255.6 265.2 259.0 264.4 262.0C263.6 265.0 262.9 268.4 262.0 268.0C261.1 267.6 260.2 263.2 260.0 260.0Z" fill="#d3d4e8"/>
<path d="M267.6 255.0C267.8 253.2 268.9 251.4 270.0 251.0C271.1 250.6 272.0 254.0 273.0 253.0C274.0 252.0 273.9 249.8 275.0 246.0C276.1 242.2 276.9 238.0 278.4 234.0C279.9 230.0 281.2 229.2 282.4 226.0C283.6 222.8 283.9 221.4 284.4 218.0C284.9 214.6 284.8 209.0 284.8 209.0C284.8 209.0 286.0 209.0 286.0 209.0C286.0 209.0 286.1 232.8 286.0 242.0C285.9 251.2 286.4 252.0 285.6 255.0C284.8 258.0 283.3 255.2 282.0 257.0C280.7 258.8 280.2 262.2 279.0 264.0C277.8 265.8 277.2 266.8 276.0 266.0C274.8 265.2 274.4 261.2 273.0 260.0C271.6 258.8 270.1 261.0 269.0 260.0C267.9 259.0 267.4 256.8 267.6 255.0Z" fill="#d3d4e8"/>
<path d="M292.4 209.0C292.4 209.0 295.6 209.0 295.6 209.0C295.6 209.0 295.4 222.6 295.0 230.0C294.6 237.4 294.2 242.0 293.6 246.0C293.0 250.0 292.5 251.2 292.0 250.0C291.5 248.8 290.9 248.2 291.0 240.0C291.1 231.8 292.4 209.0 292.4 209.0Z" fill="#d3d4e8"/>
<path d="M302.4 243.0C301.9 239.8 302.0 235.0 302.4 232.0C302.8 229.0 303.4 228.0 304.4 228.0C305.4 228.0 307.0 228.8 307.6 232.0C308.2 235.2 308.1 240.8 307.6 244.0C307.1 247.2 306.0 248.2 305.0 248.0C304.0 247.8 302.9 246.2 302.4 243.0Z" fill="#d3d4e8"/>
<path d="M315.0 209.0C315.0 209.0 338.0 209.0 338.0 209.0C338.0 209.0 338.0 240.0 338.0 240.0C338.0 240.0 335.0 244.2 333.0 245.0C331.0 245.8 329.2 243.0 328.0 244.0C326.8 245.0 328.0 249.8 327.0 250.0C326.0 250.2 324.6 245.2 323.0 245.0C321.4 244.8 320.6 247.8 319.0 249.0C317.4 250.2 316.4 252.0 315.0 251.0C313.6 250.0 312.5 248.2 312.0 244.0C311.5 239.8 311.8 237.0 312.4 230.0C313.0 223.0 315.0 209.0 315.0 209.0Z" fill="#d3d4e8"/>
<path d="M259.0 296.0C259.0 293.2 260.2 290.2 261.0 290.0C261.8 289.8 263.0 292.2 263.0 295.0C263.0 297.8 261.8 303.8 261.0 304.0C260.2 304.2 259.0 298.8 259.0 296.0Z" fill="#d3d4e8"/>
<path d="M314.0 209.0C314.0 209.0 348.4 209.0 348.4 209.0C348.4 209.0 347.7 220.2 347.0 226.0C346.3 231.8 346.0 234.1 345.0 238.0C344.0 241.9 343.2 244.4 342.0 245.6C340.8 246.8 340.1 245.1 339.0 244.0C337.9 242.9 337.6 239.7 336.4 240.0C335.2 240.3 334.3 244.6 333.0 245.6C331.7 246.6 331.2 243.9 330.0 245.0C328.8 246.1 328.4 251.2 327.0 251.0C325.6 250.8 324.4 244.8 323.0 244.0C321.6 243.2 321.7 245.5 320.0 247.0C318.3 248.5 316.0 252.2 314.4 251.6C312.8 251.0 312.4 247.9 312.0 244.0C311.6 240.1 311.9 236.4 312.4 232.0C312.9 227.6 314.1 226.6 314.4 222.0C314.7 217.4 314.0 209.0 314.0 209.0Z" fill="#d3d4e8"/>
<path d="M363.0 209.0C363.0 209.0 389.0 209.0 389.0 209.0C389.0 209.0 388.0 214.2 387.0 218.0C386.0 221.8 385.4 224.4 384.0 228.0C382.6 231.6 381.6 232.4 380.0 236.0C378.4 239.6 377.6 242.0 376.0 246.0C374.4 250.0 373.2 251.6 372.0 256.0C370.8 260.4 370.8 265.6 370.0 268.0C369.2 270.4 368.8 271.2 368.0 268.0C367.2 264.8 367.3 256.8 366.0 252.0C364.7 247.2 362.6 247.8 361.6 244.0C360.6 240.2 360.7 237.4 361.0 233.0C361.3 228.6 362.6 226.8 363.0 222.0C363.4 217.2 363.0 209.0 363.0 209.0Z" fill="#d3d4e8"/>
<path d="M398.0 320.0C399.2 318.0 400.4 319.8 402.0 320.0C403.6 320.2 404.6 321.2 406.0 321.0C407.4 320.8 407.7 318.2 409.0 319.0C410.3 319.8 411.1 322.6 412.4 325.0C413.7 327.4 414.3 331.0 415.6 331.0C416.9 331.0 417.5 325.4 419.0 325.0C420.5 324.6 421.6 328.6 423.0 329.0C424.4 329.4 425.3 324.8 426.0 327.0C426.7 329.2 426.1 335.6 426.4 340.0C426.7 344.4 426.6 346.1 427.6 349.0C428.6 351.9 430.1 354.0 431.6 354.4C433.1 354.8 433.6 352.4 435.0 351.0C436.4 349.6 436.8 348.8 438.4 347.6C440.0 346.4 441.5 347.7 443.0 345.0C444.5 342.3 444.8 337.4 446.0 334.0C447.2 330.6 447.2 330.8 449.0 328.0C450.8 325.2 452.8 321.0 455.0 320.0C457.2 319.0 458.1 323.4 460.0 323.0C461.9 322.6 463.1 321.4 464.4 318.0C465.7 314.6 465.6 309.2 466.4 306.0C467.2 302.8 467.7 301.6 468.6 302.0C469.5 302.4 469.3 305.9 471.0 308.0C472.7 310.1 474.8 311.6 477.0 312.4C479.2 313.2 480.4 311.3 482.0 312.0C483.6 312.7 483.5 313.8 485.0 316.0C486.5 318.2 488.0 322.6 489.6 323.0C491.2 323.4 491.3 320.0 493.0 318.0C494.7 316.0 496.0 315.6 498.0 313.0C500.0 310.4 501.0 307.2 503.0 305.0C505.0 302.8 506.6 303.8 508.0 302.0C509.4 300.2 508.2 298.4 510.0 296.0C511.8 293.6 514.6 291.3 517.0 290.0C519.4 288.7 519.4 288.8 522.0 289.4C524.6 290.0 526.4 291.9 530.0 293.0C533.6 294.1 537.0 294.4 540.0 295.0C543.0 295.6 543.2 296.4 545.0 296.0C546.8 295.6 549.0 293.0 549.0 293.0C549.0 293.0 558.0 291.6 558.0 291.6C558.0 291.6 564.0 295.0 564.0 295.0C564.0 295.0 563.0 306.0 563.0 306.0C563.0 306.0 556.0 318.0 556.0 318.0C556.0 318.0 553.0 336.0 553.0 336.0C553.0 336.0 548.6 343.4 546.0 346.0C543.4 348.6 543.2 347.8 540.0 349.0C536.8 350.2 534.0 350.2 530.0 352.0C526.0 353.8 523.6 355.8 520.0 358.0C516.4 360.2 515.0 360.4 512.0 363.0C509.0 365.6 507.8 367.8 505.0 371.0C502.2 374.2 500.0 378.0 498.0 379.0C496.0 380.0 496.4 376.6 495.0 376.0C493.6 375.4 492.4 377.8 491.0 376.0C489.6 374.2 489.2 369.4 488.0 367.0C486.8 364.6 486.4 363.0 485.0 364.0C483.6 365.0 482.4 369.2 481.0 372.0C479.6 374.8 479.4 377.4 478.0 378.0C476.6 378.6 475.8 375.4 474.0 375.0C472.2 374.6 470.8 373.8 469.0 376.0C467.2 378.2 466.8 383.4 465.0 386.0C463.2 388.6 463.0 387.2 460.0 389.0C457.0 390.8 452.8 394.0 450.0 395.0C447.2 396.0 447.6 394.4 446.0 394.0C444.4 393.6 443.6 392.4 442.0 393.0C440.4 393.6 438.0 397.0 438.0 397.0C438.0 397.0 430.0 399.0 430.0 399.0C430.0 399.0 383.0 399.0 383.0 399.0C383.0 399.0 383.0 388.2 384.0 382.0C385.0 375.8 386.4 372.8 388.0 368.0C389.6 363.2 390.8 362.4 392.0 358.0C393.2 353.6 393.2 351.6 394.0 346.0C394.8 340.4 395.2 335.2 396.0 330.0C396.8 324.8 396.8 322.0 398.0 320.0Z" fill="#d3d4e8"/>
<path d="M354.0 380.0C353.8 378.0 355.3 377.2 356.0 375.0C356.7 372.8 356.9 370.0 357.6 369.0C358.3 368.0 359.3 367.8 359.6 370.0C359.9 372.2 359.7 377.0 359.2 380.0C358.7 383.0 358.0 385.0 357.0 385.0C356.0 385.0 354.2 382.0 354.0 380.0Z" fill="#d3d4e8"/>
<path d="M327.6 398.0C327.6 398.0 328.3 392.0 329.0 390.0C329.7 388.0 330.4 390.4 331.0 388.0C331.6 385.6 331.3 381.0 332.0 378.0C332.7 375.0 333.6 372.6 334.4 373.0C335.2 373.4 335.7 376.2 336.0 380.0C336.3 383.8 336.2 388.4 336.0 392.0C335.8 395.6 335.0 398.0 335.0 398.0C335.0 398.0 327.6 398.0 327.6 398.0Z" fill="#d3d4e8"/>
<path d="M746.0 209.0C746.0 209.0 744.6 214.8 743.0 217.0C741.4 219.2 740.0 217.8 738.0 220.0C736.0 222.2 735.0 225.6 733.0 228.0C731.0 230.4 729.9 229.0 728.0 232.0C726.1 235.0 724.7 236.6 723.6 243.0C722.5 249.4 723.1 258.4 722.4 264.0C721.7 269.6 721.5 268.8 720.0 271.0C718.5 273.2 716.1 272.0 715.0 275.0C713.9 278.0 713.5 283.0 714.4 286.0C715.3 289.0 718.1 287.8 719.6 290.0C721.1 292.2 721.0 294.3 722.0 297.0C723.0 299.7 723.2 302.4 724.4 303.6C725.6 304.8 726.9 303.6 728.0 303.0C729.1 302.4 728.7 299.8 730.0 300.4C731.3 301.0 732.6 305.4 734.4 306.0C736.2 306.6 737.2 305.2 739.0 303.6C740.8 302.0 742.1 300.7 743.6 298.0C745.1 295.3 745.5 292.8 746.4 290.0C747.3 287.2 746.9 286.2 748.0 284.0C749.1 281.8 750.2 280.8 752.0 279.0C753.8 277.2 757.0 275.0 757.0 275.0C757.0 275.0 758.4 269.0 758.4 269.0C758.4 269.0 761.0 268.0 761.0 268.0C761.0 268.0 764.0 275.6 764.0 275.6C764.0 275.6 767.6 274.0 767.6 274.0C767.6 274.0 768.4 264.0 768.4 264.0C768.4 264.0 770.0 253.0 770.0 253.0C770.0 253.0 775.6 245.0 775.6 245.0C775.6 245.0 776.0 232.0 776.0 232.0C776.0 232.0 773.0 225.0 773.0 225.0C773.0 225.0 768.0 218.0 768.0 218.0C768.0 218.0 766.0 209.0 766.0 209.0C766.0 209.0 746.0 209.0 746.0 209.0Z" fill="#fbc7c4"/>
<path d="M556.0 396.0C558.0 393.8 561.0 390.4 564.0 387.0C567.0 383.6 568.2 380.6 571.0 379.0C573.8 377.4 575.4 380.0 578.0 379.0C580.6 378.0 581.8 376.2 584.0 374.0C586.2 371.8 587.0 369.6 589.0 368.0C591.0 366.4 591.4 367.5 594.0 366.0C596.6 364.5 598.4 361.4 602.0 360.4C605.6 359.4 608.8 361.2 612.0 361.0C615.2 360.8 615.4 360.0 618.0 359.6C620.6 359.2 622.6 360.5 625.0 359.0C627.4 357.5 628.0 355.0 630.0 352.0C632.0 349.0 633.0 346.4 635.0 344.0C637.0 341.6 638.0 341.4 640.0 340.0C642.0 338.6 643.2 339.0 645.0 337.0C646.8 335.0 647.6 331.9 649.0 330.0C650.4 328.1 650.6 327.7 652.0 327.6C653.4 327.5 654.4 329.1 656.0 329.6C657.6 330.1 658.0 330.7 660.0 330.0C662.0 329.3 663.6 327.5 666.0 326.0C668.4 324.5 669.8 323.8 672.0 322.4C674.2 321.0 674.4 320.5 677.0 319.0C679.6 317.5 682.2 314.9 685.0 315.0C687.8 315.1 688.6 319.2 691.0 319.6C693.4 320.0 694.0 317.6 697.0 317.0C700.0 316.4 703.6 316.1 706.0 316.4C708.4 316.7 707.9 318.4 709.0 318.4C710.1 318.4 710.7 316.1 711.6 316.6C712.5 317.1 712.9 318.7 713.6 321.0C714.3 323.3 715.2 326.0 715.0 328.0C714.8 330.0 713.8 330.6 712.4 331.0C711.0 331.4 709.9 329.4 708.0 330.0C706.1 330.6 705.2 332.9 703.0 334.0C700.8 335.1 699.4 335.0 697.0 335.6C694.6 336.2 693.0 335.5 691.0 337.0C689.0 338.5 688.4 340.4 687.0 343.0C685.6 345.6 684.8 346.6 684.0 350.0C683.2 353.4 683.2 356.0 683.0 360.0C682.8 364.0 683.8 365.9 683.0 370.0C682.2 374.1 681.0 377.8 679.0 380.4C677.0 383.0 675.6 381.5 673.0 383.0C670.4 384.5 668.6 385.0 666.0 388.0C663.4 391.0 660.0 398.0 660.0 398.0C660.0 398.0 554.0 398.0 554.0 398.0C554.0 398.0 554.0 398.2 556.0 396.0Z" fill="#fbc7c4"/>
<path d="M783.0 254.4C783.5 252.4 785.6 252.3 788.0 251.0C790.4 249.7 792.2 248.4 795.0 248.0C797.8 247.6 800.1 247.8 802.0 249.0C803.9 250.2 804.4 251.5 804.4 254.0C804.4 256.5 803.3 259.9 802.0 261.6C800.7 263.3 799.8 261.5 798.0 262.4C796.2 263.3 795.0 265.4 793.0 266.0C791.0 266.6 789.5 266.6 788.0 265.6C786.5 264.6 786.6 263.2 785.6 261.0C784.6 258.8 782.5 256.4 783.0 254.4Z" fill="#fbc7c4"/>
<path d="M856.0 236.0C857.4 236.2 858.4 238.3 860.0 239.0C861.6 239.7 863.0 238.4 864.0 239.6C865.0 240.8 865.3 242.3 865.0 245.0C864.7 247.7 862.4 250.0 862.4 253.0C862.4 256.0 863.8 257.7 865.0 260.0C866.2 262.3 867.0 264.4 868.4 264.4C869.8 264.4 870.6 261.3 872.0 260.0C873.4 258.7 874.2 257.0 875.6 258.0C877.0 259.0 877.1 262.6 879.0 265.0C880.9 267.4 883.0 268.8 885.0 270.0C887.0 271.2 887.3 270.0 889.0 271.0C890.7 272.0 893.8 272.7 893.6 275.0C893.4 277.3 890.3 280.3 888.0 282.4C885.7 284.5 884.8 284.0 882.0 285.6C879.2 287.2 876.8 289.9 874.0 290.4C871.2 290.9 870.2 287.9 868.0 288.0C865.8 288.1 865.2 290.6 863.0 291.0C860.8 291.4 859.8 289.4 857.0 290.0C854.2 290.6 851.3 294.2 849.0 294.0C846.7 293.8 846.8 292.2 845.6 289.0C844.4 285.8 843.3 282.8 843.0 278.0C842.7 273.2 842.8 269.2 844.0 265.0C845.2 260.8 847.5 259.4 849.0 257.0C850.5 254.6 851.1 255.8 851.4 253.0C851.7 250.2 850.3 246.0 850.6 243.0C850.9 240.0 851.9 239.4 853.0 238.0C854.1 236.6 854.6 235.8 856.0 236.0Z" fill="#fbc7c4"/>
<path d="M873.6 243.6C873.7 242.2 874.9 241.0 876.4 240.4C877.9 239.8 879.6 239.9 881.0 240.4C882.4 240.9 884.0 242.1 883.6 243.0C883.2 243.9 880.5 244.1 879.0 245.0C877.5 245.9 877.1 247.9 876.0 247.6C874.9 247.3 873.5 245.0 873.6 243.6Z" fill="#fbc7c4"/>
<path d="M839.0 258.0C840.0 258.9 841.0 261.2 841.0 264.4C841.0 267.6 839.8 268.9 839.0 274.0C838.2 279.1 837.6 283.6 837.0 290.0C836.4 296.4 836.4 299.6 836.0 306.0C835.6 312.4 835.7 316.0 835.0 322.0C834.3 328.0 833.6 332.7 832.4 336.0C831.2 339.3 830.3 338.6 829.0 338.4C827.7 338.2 827.0 337.5 826.0 335.0C825.0 332.5 824.2 330.0 824.0 326.0C823.8 322.0 824.0 319.0 825.0 315.0C826.0 311.0 827.7 309.8 829.0 306.0C830.3 302.2 831.4 300.0 831.6 296.0C831.8 292.0 830.2 290.4 830.0 286.0C829.8 281.6 829.7 278.0 830.4 274.0C831.1 270.0 832.5 268.8 833.6 266.0C834.7 263.2 834.9 261.6 836.0 260.0C837.1 258.4 838.0 257.1 839.0 258.0Z" fill="#fbc7c4"/>
<path d="M822.0 369.6C822.0 369.1 823.0 368.6 823.6 368.6C824.2 368.6 825.2 369.1 825.2 369.6C825.2 370.1 824.2 371.2 823.6 371.2C823.0 371.2 822.0 370.1 822.0 369.6Z" fill="#fbc7c4"/>
<path d="M163.0 378.0C163.0 378.0 163.4 385.0 164.4 389.0C165.4 393.0 166.5 397.0 168.0 398.0C169.5 399.0 170.5 394.0 172.0 394.0C173.5 394.0 174.4 394.4 175.6 398.0C176.8 401.6 176.9 407.4 178.0 412.0C179.1 416.6 179.9 418.9 181.0 421.0C182.1 423.1 182.2 423.6 183.6 422.6C185.0 421.6 186.3 419.3 188.0 416.0C189.7 412.7 190.4 410.8 192.0 406.0C193.6 401.2 194.6 397.6 196.0 392.0C197.4 386.4 199.2 378.0 199.2 378.0C199.2 378.0 163.0 378.0 163.0 378.0Z" fill="#d3d4e8"/>
<path d="M110.0 409.0C112.0 408.8 112.6 409.6 113.6 412.0C114.6 414.4 115.3 417.4 115.0 421.0C114.7 424.6 113.8 427.0 112.0 430.0C110.2 433.0 108.2 433.4 106.0 436.0C103.8 438.6 102.4 443.4 101.0 443.0C99.6 442.6 99.2 438.2 99.0 434.0C98.8 429.8 99.1 426.2 100.0 422.0C100.9 417.8 101.6 415.6 103.6 413.0C105.6 410.4 108.0 409.2 110.0 409.0Z" fill="#d3d4e8"/>
<path d="M252.0 378.0C252.0 378.0 247.5 387.1 247.0 391.0C246.5 394.9 248.2 396.4 249.6 397.6C251.0 398.8 252.5 396.5 254.0 397.0C255.5 397.5 255.6 399.2 257.0 400.0C258.4 400.8 259.6 402.6 261.0 401.0C262.4 399.4 262.8 395.2 264.0 392.0C265.2 388.8 265.5 387.8 267.0 385.0C268.5 382.2 271.6 378.0 271.6 378.0C271.6 378.0 252.0 378.0 252.0 378.0Z" fill="#fbc7c4"/>
<path d="M229.0 396.4C230.8 396.1 232.8 397.1 235.0 397.6C237.2 398.1 238.7 397.9 240.0 399.0C241.3 400.1 242.0 401.0 241.6 403.0C241.2 405.0 239.3 406.8 238.0 409.0C236.7 411.2 236.6 412.6 235.0 414.0C233.4 415.4 232.0 414.2 230.0 416.0C228.0 417.8 227.0 420.2 225.0 423.0C223.0 425.8 221.4 426.6 220.0 430.0C218.6 433.4 218.8 435.6 218.0 440.0C217.2 444.4 217.0 446.8 216.0 452.0C215.0 457.2 214.6 461.2 213.0 466.0C211.4 470.8 210.6 472.8 208.0 476.0C205.4 479.2 202.4 479.6 200.0 482.0C197.6 484.4 198.4 486.4 196.0 488.0C193.6 489.6 191.0 490.0 188.0 490.0C185.0 490.0 183.0 488.2 181.0 488.0C179.0 487.8 179.4 487.6 178.0 489.0C176.6 490.4 175.8 492.6 174.0 495.0C172.2 497.4 170.8 500.8 169.0 501.0C167.2 501.2 166.4 496.6 165.0 496.0C163.6 495.4 163.2 496.2 162.0 498.0C160.8 499.8 160.3 504.4 159.0 505.0C157.7 505.6 157.0 500.8 155.6 501.0C154.2 501.2 153.9 503.6 152.0 506.0C150.1 508.4 148.4 510.8 146.0 513.0C143.6 515.2 142.2 516.4 140.0 517.0C137.8 517.6 136.7 517.0 135.0 516.0C133.3 515.0 133.2 511.6 131.6 512.0C130.0 512.4 129.1 516.4 127.0 518.0C124.9 519.6 123.0 518.2 121.0 520.0C119.0 521.8 118.8 523.4 117.0 527.0C115.2 530.6 114.2 533.0 112.0 538.0C109.8 543.0 108.4 547.4 106.0 552.0C103.6 556.6 102.0 557.8 100.0 561.0C98.0 564.2 96.0 568.0 96.0 568.0C96.0 568.0 86.0 568.0 86.0 568.0C86.0 568.0 86.0 514.0 86.0 514.0C86.0 514.0 89.2 510.8 92.0 508.0C94.8 505.2 96.8 503.0 100.0 500.0C103.2 497.0 105.6 496.2 108.0 493.0C110.4 489.8 110.6 487.4 112.0 484.0C113.4 480.6 113.4 478.3 115.0 476.0C116.6 473.7 118.0 473.0 120.0 472.4C122.0 471.8 122.8 474.1 125.0 473.0C127.2 471.9 128.8 468.0 131.0 467.0C133.2 466.0 134.0 468.4 136.0 468.0C138.0 467.6 138.8 466.1 141.0 465.0C143.2 463.9 144.4 462.7 147.0 462.4C149.6 462.1 152.0 462.7 154.0 463.6C156.0 464.5 155.6 466.5 157.0 467.0C158.4 467.5 159.2 465.6 161.0 466.0C162.8 466.4 164.0 468.2 166.0 469.0C168.0 469.8 169.2 469.2 171.0 470.0C172.8 470.8 173.6 473.0 175.0 473.0C176.4 473.0 176.6 472.6 178.0 470.0C179.4 467.4 180.4 463.4 182.0 460.0C183.6 456.6 184.2 456.0 186.0 453.0C187.8 450.0 189.0 447.6 191.0 445.0C193.0 442.4 194.0 441.2 196.0 440.0C198.0 438.8 199.0 440.2 201.0 439.0C203.0 437.8 203.8 436.2 206.0 434.0C208.2 431.8 209.8 430.8 212.0 428.0C214.2 425.2 215.4 423.2 217.0 420.0C218.6 416.8 218.8 415.2 220.0 412.0C221.2 408.8 221.8 406.6 223.0 404.0C224.2 401.4 224.8 400.5 226.0 399.0C227.2 397.5 227.2 396.7 229.0 396.4Z" fill="#fbc7c4"/>
<path d="M281.0 427.4C282.1 428.0 282.3 430.7 282.4 434.0C282.5 437.3 282.3 441.3 281.6 444.0C280.9 446.7 280.3 447.4 279.0 447.6C277.7 447.8 276.4 443.1 275.0 445.0C273.6 446.9 273.6 453.6 272.0 457.0C270.4 460.4 269.2 459.8 267.0 462.0C264.8 464.2 263.2 465.8 261.0 468.0C258.8 470.2 258.2 471.0 256.0 473.0C253.8 475.0 252.0 475.4 250.0 478.0C248.0 480.6 248.0 482.4 246.0 486.0C244.0 489.6 242.2 492.4 240.0 496.0C237.8 499.6 237.0 501.2 235.0 504.0C233.0 506.8 232.0 509.6 230.0 510.0C228.0 510.4 226.7 506.7 225.0 506.0C223.3 505.3 222.6 508.4 221.6 506.4C220.6 504.4 220.1 500.5 220.0 496.0C219.9 491.5 220.3 488.6 221.0 484.0C221.7 479.4 222.0 476.6 223.6 473.0C225.2 469.4 226.7 469.2 229.0 466.0C231.3 462.8 232.8 460.6 235.0 457.0C237.2 453.4 238.0 451.4 240.0 448.0C242.0 444.6 242.6 442.4 245.0 440.0C247.4 437.6 249.4 437.3 252.0 436.0C254.6 434.7 255.8 433.8 258.0 433.6C260.2 433.4 261.0 435.2 263.0 435.0C265.0 434.8 266.0 433.6 268.0 432.4C270.0 431.2 271.7 428.7 273.0 429.0C274.3 429.3 273.6 433.6 274.4 434.0C275.2 434.4 275.7 432.3 277.0 431.0C278.3 429.7 279.9 426.8 281.0 427.4Z" fill="#fbc7c4"/>
<path d="M148.0 539.0C148.0 539.0 153.2 537.4 156.0 538.0C158.8 538.6 159.2 542.6 162.0 542.0C164.8 541.4 166.8 537.4 170.0 535.0C173.2 532.6 174.8 532.2 178.0 530.0C181.2 527.8 183.0 526.0 186.0 524.0C189.0 522.0 190.2 521.8 193.0 520.0C195.8 518.2 197.4 516.1 200.0 515.0C202.6 513.9 204.2 513.4 206.0 514.4C207.8 515.4 208.2 515.7 209.0 520.0C209.8 524.3 209.4 530.2 210.0 536.0C210.6 541.8 210.4 547.8 212.0 549.0C213.6 550.2 215.6 544.6 218.0 542.0C220.4 539.4 222.0 538.4 224.0 536.0C226.0 533.6 226.0 532.4 228.0 530.0C230.0 527.6 231.6 526.4 234.0 524.0C236.4 521.6 237.6 521.2 240.0 518.0C242.4 514.8 243.2 512.0 246.0 508.0C248.8 504.0 250.8 502.0 254.0 498.0C257.2 494.0 258.8 492.0 262.0 488.0C265.2 484.0 266.8 481.4 270.0 478.0C273.2 474.6 275.6 473.8 278.0 471.0C280.4 468.2 279.6 465.8 282.0 464.0C284.4 462.2 287.6 464.2 290.0 462.0C292.4 459.8 292.4 455.1 294.0 453.0C295.6 450.9 296.4 451.2 298.0 451.6C299.6 452.0 300.6 455.5 302.0 455.0C303.4 454.5 303.6 451.1 305.0 449.0C306.4 446.9 307.5 444.3 309.0 444.4C310.5 444.5 311.0 448.7 312.4 449.6C313.8 450.5 314.5 451.1 316.0 449.0C317.5 446.9 318.4 442.4 320.0 439.0C321.6 435.6 322.9 435.8 324.0 432.0C325.1 428.2 325.1 425.6 325.6 420.0C326.1 414.4 325.9 409.6 326.4 404.0C326.9 398.4 327.3 395.2 328.0 392.0C328.7 388.8 329.4 391.2 330.0 388.0C330.6 384.8 329.8 378.4 331.0 376.0C332.2 373.6 335.1 372.8 336.0 376.0C336.9 379.2 335.9 387.2 335.6 392.0C335.3 396.8 334.9 397.4 334.4 400.0C333.9 402.6 333.7 404.6 333.0 405.0C332.3 405.4 331.6 400.2 331.0 402.0C330.4 403.8 330.1 408.4 330.0 414.0C329.9 419.6 330.4 424.0 330.6 430.0C330.8 436.0 331.3 438.0 331.0 444.0C330.7 450.0 330.0 454.0 329.0 460.0C328.0 466.0 327.2 468.4 326.0 474.0C324.8 479.6 324.2 482.0 323.0 488.0C321.8 494.0 321.4 498.4 320.0 504.0C318.6 509.6 317.6 512.8 316.0 516.0C314.4 519.2 313.6 516.8 312.0 520.0C310.4 523.2 309.9 526.8 308.0 532.0C306.1 537.2 304.0 543.2 302.4 546.0C300.8 548.8 301.3 544.8 300.0 546.0C298.7 547.2 298.0 548.0 296.0 552.0C294.0 556.0 292.4 562.4 290.0 566.0C287.6 569.6 286.0 565.6 284.0 570.0C282.0 574.4 282.8 582.0 280.0 588.0C277.2 594.0 272.4 595.8 270.0 600.0C267.6 604.2 268.6 606.6 268.0 609.0C267.4 611.4 268.2 610.2 267.0 612.0C265.8 613.8 263.6 615.8 262.0 618.0C260.4 620.2 260.6 620.8 259.0 623.0C257.4 625.2 255.8 627.6 254.0 629.0C252.2 630.4 251.0 628.8 250.0 630.0C249.0 631.2 250.2 633.0 249.0 635.0C247.8 637.0 246.0 637.8 244.0 640.0C242.0 642.2 240.5 643.2 239.0 646.0C237.5 648.8 237.0 650.0 236.4 654.0C235.8 658.0 235.7 661.6 236.0 666.0C236.3 670.4 237.2 672.3 238.0 676.0C238.8 679.7 239.0 682.6 240.0 684.4C241.0 686.2 241.8 684.3 243.0 685.0C244.2 685.7 244.8 688.2 246.0 688.0C247.2 687.8 247.8 682.4 249.0 684.0C250.2 685.6 250.6 692.4 252.0 696.0C253.4 699.6 254.2 699.8 256.0 702.0C257.8 704.2 259.7 708.2 261.0 707.0C262.3 705.8 261.9 696.6 262.4 696.0C262.9 695.4 263.2 700.0 263.6 704.0C264.0 708.0 264.2 710.8 264.4 716.0C264.6 721.2 264.7 725.0 264.4 730.0C264.1 735.0 263.9 738.6 263.0 741.0C262.1 743.4 260.8 740.8 260.0 742.0C259.2 743.2 259.8 746.8 259.0 747.0C258.2 747.2 257.8 742.8 256.0 743.0C254.2 743.2 252.0 746.2 250.0 748.0C248.0 749.8 247.6 749.8 246.0 752.0C244.4 754.2 243.6 758.0 242.0 759.0C240.4 760.0 239.6 758.8 238.0 757.0C236.4 755.2 235.6 753.4 234.0 750.0C232.4 746.6 231.4 744.0 230.0 740.0C228.6 736.0 228.2 734.0 227.0 730.0C225.8 726.0 225.1 723.9 224.0 720.0C222.9 716.1 223.2 711.6 221.6 710.4C220.0 709.2 218.7 712.3 216.0 714.0C213.3 715.7 210.8 717.6 208.0 719.0C205.2 720.4 203.8 721.6 202.0 721.0C200.2 720.4 200.4 719.0 199.0 716.0C197.6 713.0 196.0 711.2 195.0 706.0C194.0 700.8 193.9 697.2 194.0 690.0C194.1 682.8 194.6 678.0 195.6 670.0C196.6 662.0 197.6 658.0 199.0 650.0C200.4 642.0 201.4 638.2 202.4 630.0C203.4 621.8 203.5 616.2 204.0 609.0C204.5 601.8 205.3 598.8 205.0 594.0C204.7 589.2 204.2 584.2 202.4 585.0C200.6 585.8 198.5 593.8 196.0 598.0C193.5 602.2 192.2 603.6 190.0 606.0C187.8 608.4 187.0 610.4 185.0 610.0C183.0 609.6 182.2 606.0 180.0 604.0C177.8 602.0 176.4 600.8 174.0 600.0C171.6 599.2 170.2 601.0 168.0 600.0C165.8 599.0 164.8 594.6 163.0 595.0C161.2 595.4 160.8 601.4 159.0 602.0C157.2 602.6 156.2 595.6 154.0 598.0C151.8 600.4 148.0 614.0 148.0 614.0C148.0 614.0 148.0 539.0 148.0 539.0Z" fill="#d3d4e8"/>
<path d="M333.0 505.0C333.9 505.4 334.8 507.8 335.6 512.0C336.4 516.2 336.9 520.4 337.0 526.0C337.1 531.6 336.6 534.5 336.0 540.0C335.4 545.5 335.0 551.4 334.0 553.6C333.0 555.8 332.1 551.3 331.0 551.0C329.9 550.7 328.9 555.0 328.4 552.0C327.9 549.0 328.2 542.4 328.4 536.0C328.6 529.6 329.1 525.2 329.6 520.0C330.1 514.8 330.3 513.0 331.0 510.0C331.7 507.0 332.1 504.6 333.0 505.0Z" fill="#fbc7c4"/>
<path d="M299.0 590.0C300.2 589.0 300.8 593.0 302.0 595.0C303.2 597.0 304.4 595.8 305.0 600.0C305.6 604.2 305.6 610.0 305.2 616.0C304.8 622.0 303.9 625.5 302.8 630.0C301.7 634.5 300.8 638.0 299.6 638.4C298.4 638.8 297.9 636.5 297.0 632.0C296.1 627.5 295.4 622.4 295.2 616.0C295.0 609.6 295.2 605.2 296.0 600.0C296.8 594.8 297.8 591.0 299.0 590.0Z" fill="#fbc7c4"/>
<path d="M308.0 620.0C307.5 615.3 307.2 610.3 307.6 604.0C308.0 597.7 308.7 591.5 310.0 588.4C311.3 585.3 312.8 586.1 314.0 588.4C315.2 590.7 315.7 593.7 316.0 600.0C316.3 606.3 316.0 615.0 315.6 620.0C315.2 625.0 315.1 623.5 314.0 625.0C312.9 626.5 311.2 628.6 310.0 627.6C308.8 626.6 308.5 624.7 308.0 620.0Z" fill="#fbc7c4"/>
<path d="M317.6 620.0C317.0 614.1 317.1 606.5 317.6 600.0C318.1 593.5 319.3 587.6 320.0 587.6C320.7 587.6 320.8 593.5 321.0 600.0C321.2 606.5 321.3 614.1 321.2 620.0C321.1 625.9 321.1 629.6 320.4 629.6C319.7 629.6 318.2 625.9 317.6 620.0Z" fill="#fbc7c4"/>
<path d="M358.8 618.0C358.7 612.6 359.0 596.2 359.2 591.0C359.4 585.8 359.9 586.6 360.0 592.0C360.1 597.4 360.0 612.8 359.8 618.0C359.6 623.2 358.9 623.4 358.8 618.0Z" fill="#fbc7c4"/>
<path d="M281.0 701.0C281.6 701.0 281.5 705.4 282.0 710.0C282.5 714.6 282.9 718.8 283.6 724.0C284.3 729.2 284.5 735.2 285.6 736.0C286.7 736.8 287.8 731.3 289.0 728.0C290.2 724.7 290.6 719.2 291.6 719.6C292.6 720.0 293.0 725.9 294.0 730.0C295.0 734.1 295.8 735.2 296.4 740.0C297.0 744.8 297.1 748.0 297.0 754.0C296.9 760.0 296.7 763.4 296.0 770.0C295.3 776.6 294.8 784.0 293.6 787.0C292.4 790.0 291.3 786.8 290.0 785.0C288.7 783.2 288.4 780.0 287.0 778.0C285.6 776.0 284.4 777.0 283.0 775.0C281.6 773.0 280.9 773.0 280.0 768.0C279.1 763.0 278.9 757.6 278.4 750.0C277.9 742.4 277.5 738.0 277.6 730.0C277.7 722.0 278.3 715.8 279.0 710.0C279.7 704.2 280.4 701.0 281.0 701.0Z" fill="#d3d4e8"/>
<path d="M311.6 719.0C312.8 718.6 312.9 721.6 314.0 722.0C315.1 722.4 315.8 719.4 317.0 721.0C318.2 722.6 318.8 727.2 320.0 730.0C321.2 732.8 321.9 731.0 323.0 735.0C324.1 739.0 324.7 743.8 325.6 750.0C326.5 756.2 326.9 760.0 327.6 766.0C328.3 772.0 329.0 775.2 329.0 780.0C329.0 784.8 328.6 787.6 327.6 790.0C326.6 792.4 325.5 792.8 324.0 792.0C322.5 791.2 321.6 787.6 320.0 786.0C318.4 784.4 317.5 785.2 316.0 784.0C314.5 782.8 313.6 783.6 312.4 780.0C311.2 776.4 310.8 772.0 310.0 766.0C309.2 760.0 309.0 757.2 308.4 750.0C307.8 742.8 307.1 735.2 307.0 730.0C306.9 724.8 307.1 726.2 308.0 724.0C308.9 721.8 310.4 719.4 311.6 719.0Z" fill="#d3d4e8"/>
<path d="M363.0 799.0C363.0 799.0 363.8 787.5 364.4 784.0C365.0 780.5 365.3 781.2 366.0 781.6C366.7 782.0 367.5 782.5 368.0 786.0C368.5 789.5 368.4 799.0 368.4 799.0C368.4 799.0 363.0 799.0 363.0 799.0Z" fill="#d3d4e8"/>
<path d="M384.0 378.0C384.0 378.0 382.8 387.2 382.4 392.0C382.0 396.8 381.8 398.0 382.0 402.0C382.2 406.0 382.6 408.9 383.6 412.0C384.6 415.1 385.5 416.6 387.0 417.6C388.5 418.6 389.6 418.3 391.0 417.0C392.4 415.7 392.4 413.6 394.0 411.0C395.6 408.4 396.8 406.2 399.0 404.0C401.2 401.8 402.8 401.1 405.0 400.0C407.2 398.9 407.8 398.5 410.0 398.4C412.2 398.3 414.0 400.1 416.0 399.6C418.0 399.1 418.2 397.2 420.0 396.0C421.8 394.8 422.6 393.2 425.0 393.6C427.4 394.0 429.6 397.4 432.0 398.0C434.4 398.6 435.2 397.3 437.0 396.4C438.8 395.5 439.4 394.0 441.0 393.6C442.6 393.2 443.2 394.1 445.0 394.4C446.8 394.7 447.6 395.8 450.0 395.0C452.4 394.2 454.2 392.0 457.0 390.4C459.8 388.8 461.9 389.5 464.0 387.0C466.1 384.5 467.6 378.0 467.6 378.0C467.6 378.0 384.0 378.0 384.0 378.0Z" fill="#d3d4e8"/>
<path d="M548.0 405.0C548.0 405.0 543.2 409.6 540.0 412.0C536.8 414.4 535.6 414.8 532.0 417.0C528.4 419.2 525.2 420.4 522.0 423.0C518.8 425.6 518.6 426.6 516.0 430.0C513.4 433.4 511.6 436.0 509.0 440.0C506.4 444.0 505.0 446.0 503.0 450.0C501.0 454.0 500.4 455.6 499.0 460.0C497.6 464.4 497.4 467.6 496.0 472.0C494.6 476.4 493.6 478.4 492.0 482.0C490.4 485.6 490.2 487.0 488.0 490.0C485.8 493.0 483.4 494.8 481.0 497.0C478.6 499.2 477.8 499.5 476.0 501.0C474.2 502.5 473.8 503.6 472.0 504.4C470.2 505.2 469.0 505.7 467.0 505.0C465.0 504.3 464.2 502.1 462.0 501.0C459.8 499.9 458.4 500.2 456.0 499.6C453.6 499.0 452.4 497.7 450.0 498.0C447.6 498.3 446.4 500.1 444.0 501.0C441.6 501.9 440.4 502.2 438.0 502.4C435.6 502.6 434.8 502.4 432.0 502.0C429.2 501.6 426.8 500.4 424.0 500.6C421.2 500.8 420.4 502.0 418.0 503.0C415.6 504.0 414.2 503.6 412.0 505.6C409.8 507.6 409.4 509.9 407.0 513.0C404.6 516.1 402.6 518.4 400.0 521.0C397.4 523.6 396.4 523.4 394.0 526.0C391.6 528.6 389.8 530.8 388.0 534.0C386.2 537.2 386.2 538.4 385.0 542.0C383.8 545.6 383.2 548.4 382.0 552.0C380.8 555.6 380.2 556.6 379.0 560.0C377.8 563.4 376.0 569.0 376.0 569.0C376.0 569.0 517.0 569.0 517.0 569.0C517.0 569.0 517.0 556.6 516.4 550.0C515.8 543.4 515.0 541.2 514.0 536.0C513.0 530.8 512.2 529.2 511.6 524.0C511.0 518.8 510.8 515.6 511.0 510.0C511.2 504.4 511.4 501.2 512.4 496.0C513.4 490.8 514.1 487.6 516.0 484.0C517.9 480.4 519.2 480.0 522.0 478.0C524.8 476.0 526.4 475.3 530.0 474.0C533.6 472.7 536.4 472.6 540.0 471.6C543.6 470.6 548.0 469.0 548.0 469.0C548.0 469.0 548.0 405.0 548.0 405.0Z" fill="#fbc7c4"/>
<path d="M570.0 379.0C570.0 379.0 565.2 384.4 562.0 388.0C558.8 391.6 556.8 393.8 554.0 397.0C551.2 400.2 550.6 401.0 548.0 404.0C545.4 407.0 544.2 409.4 541.0 412.0C537.8 414.6 535.6 415.0 532.0 417.0C528.4 419.0 526.0 419.8 523.0 422.0C520.0 424.2 519.6 425.0 517.0 428.0C514.4 431.0 512.6 433.2 510.0 437.0C507.4 440.8 506.0 443.1 504.0 447.0C502.0 450.9 501.2 452.8 500.0 456.4C498.8 460.0 498.0 465.0 498.0 465.0C498.0 465.0 498.0 569.0 498.0 569.0C498.0 569.0 517.0 569.0 517.0 569.0C517.0 569.0 516.8 556.2 516.4 550.0C516.0 543.8 515.8 542.4 515.0 538.0C514.2 533.6 513.1 532.4 512.4 528.0C511.7 523.6 511.6 520.8 511.6 516.0C511.6 511.2 511.7 508.8 512.4 504.0C513.1 499.2 513.7 496.0 515.0 492.0C516.3 488.0 517.2 486.6 519.0 484.0C520.8 481.4 521.6 480.7 524.0 479.0C526.4 477.3 528.2 476.7 531.0 475.6C533.8 474.5 535.0 474.6 538.0 473.6C541.0 472.6 543.2 471.2 546.0 470.4C548.8 469.6 549.6 470.2 552.0 469.6C554.4 469.0 555.6 468.9 558.0 467.6C560.4 466.3 561.6 465.1 564.0 463.0C566.4 460.9 567.8 459.0 570.0 457.0C572.2 455.0 573.0 454.8 575.0 453.0C577.0 451.2 577.4 449.7 580.0 448.0C582.6 446.3 585.4 445.4 588.0 444.4C590.6 443.4 590.6 444.5 593.0 443.0C595.4 441.5 597.4 439.3 600.0 437.0C602.6 434.7 603.6 433.4 606.0 431.6C608.4 429.8 609.6 429.0 612.0 428.0C614.4 427.0 615.4 427.4 618.0 426.4C620.6 425.4 622.6 424.7 625.0 423.0C627.4 421.3 627.8 420.0 630.0 418.0C632.2 416.0 633.6 414.8 636.0 413.0C638.4 411.2 639.8 411.0 642.0 409.0C644.2 407.0 645.0 405.0 647.0 403.0C649.0 401.0 649.8 400.1 652.0 399.0C654.2 397.9 656.0 398.8 658.0 397.6C660.0 396.4 660.2 395.1 662.0 393.0C663.8 390.9 664.6 389.2 667.0 387.0C669.4 384.8 671.4 383.6 674.0 382.0C676.6 380.4 680.0 379.0 680.0 379.0C680.0 379.0 570.0 379.0 570.0 379.0Z" fill="#fbc7c4"/>
<path d="M695.0 409.4C696.2 409.6 696.6 409.7 698.0 411.0C699.4 412.3 700.3 413.8 702.0 416.0C703.7 418.2 705.8 418.6 706.6 422.0C707.4 425.4 706.7 429.8 706.0 433.0C705.3 436.2 704.4 436.7 703.0 438.0C701.6 439.3 700.6 438.2 699.0 439.6C697.4 441.0 696.8 442.5 695.0 445.0C693.2 447.5 691.6 450.8 690.0 452.0C688.4 453.2 689.0 450.0 687.0 451.0C685.0 452.0 682.8 455.9 680.0 457.0C677.2 458.1 675.6 456.0 673.0 456.4C670.4 456.8 669.2 457.3 667.0 459.0C664.8 460.7 664.4 463.6 662.0 465.0C659.6 466.4 657.2 465.4 655.0 466.0C652.8 466.6 652.4 466.2 651.0 468.0C649.6 469.8 649.2 471.8 648.0 475.0C646.8 478.2 646.3 480.4 645.0 484.0C643.7 487.6 643.0 489.8 641.6 493.0C640.2 496.2 639.4 497.0 638.0 500.0C636.6 503.0 635.6 504.0 634.4 508.0C633.2 512.0 633.1 515.2 632.0 520.0C630.9 524.8 630.0 527.8 629.0 532.0C628.0 536.2 628.0 538.6 627.0 541.0C626.0 543.4 625.0 541.8 624.0 544.0C623.0 546.2 622.5 547.0 622.0 552.0C621.5 557.0 621.6 569.0 621.6 569.0C621.6 569.0 619.6 569.0 619.6 569.0C619.6 569.0 619.5 552.0 619.0 552.0C618.5 552.0 617.0 569.0 617.0 569.0C617.0 569.0 573.0 569.0 573.0 569.0C573.0 569.0 572.0 562.2 571.0 558.0C570.0 553.8 569.2 550.4 568.0 548.0C566.8 545.6 566.6 546.4 565.0 546.0C563.4 545.6 561.6 546.6 560.0 546.0C558.4 545.4 558.0 545.0 557.0 543.0C556.0 541.0 555.5 539.0 555.0 536.0C554.5 533.0 554.3 532.0 554.4 528.0C554.5 524.0 555.0 520.8 555.6 516.0C556.2 511.2 556.5 508.4 557.6 504.0C558.7 499.6 559.3 497.4 561.0 494.0C562.7 490.6 563.8 489.2 566.0 487.0C568.2 484.8 570.0 484.8 572.0 483.0C574.0 481.2 574.4 479.9 576.0 478.0C577.6 476.1 578.4 475.0 580.0 473.6C581.6 472.2 582.2 472.3 584.0 471.0C585.8 469.7 587.4 468.1 589.0 467.0C590.6 465.9 590.4 466.7 592.0 465.6C593.6 464.5 594.6 462.9 597.0 461.6C599.4 460.3 601.6 459.6 604.0 459.0C606.4 458.4 606.6 459.5 609.0 458.4C611.4 457.3 613.4 455.7 616.0 453.6C618.6 451.5 619.8 450.3 622.0 448.0C624.2 445.7 624.8 444.2 627.0 442.0C629.2 439.8 630.4 438.9 633.0 437.0C635.6 435.1 637.0 434.3 640.0 432.4C643.0 430.5 645.2 428.3 648.0 427.6C650.8 426.9 652.0 428.9 654.0 429.0C656.0 429.1 655.8 429.3 658.0 428.0C660.2 426.7 662.2 424.2 665.0 422.4C667.8 420.6 669.0 420.5 672.0 419.0C675.0 417.5 677.4 416.3 680.0 415.0C682.6 413.7 683.4 412.7 685.0 412.4C686.6 412.1 686.6 414.1 688.0 413.6C689.4 413.1 690.6 410.8 692.0 410.0C693.4 409.2 693.8 409.2 695.0 409.4Z" fill="#d3d4e8"/>
<path d="M651.6 537.6C653.8 537.4 656.1 540.1 658.0 543.0C659.9 545.9 660.1 546.8 661.0 552.0C661.9 557.2 662.4 569.0 662.4 569.0C662.4 569.0 637.0 569.0 637.0 569.0C637.0 569.0 638.6 561.8 640.0 558.0C641.4 554.2 642.6 552.8 644.0 550.0C645.4 547.2 645.5 546.5 647.0 544.0C648.5 541.5 649.4 537.8 651.6 537.6Z" fill="#d3d4e8"/>
<path d="M723.0 509.0C724.8 509.7 724.6 513.0 726.0 516.0C727.4 519.0 728.4 522.7 730.0 524.0C731.6 525.3 732.4 523.8 734.0 522.4C735.6 521.0 736.2 517.2 738.0 517.0C739.8 516.8 740.8 520.6 743.0 521.6C745.2 522.6 747.0 521.1 749.0 522.0C751.0 522.9 751.9 522.4 753.0 526.0C754.1 529.6 754.4 534.0 754.4 540.0C754.4 546.0 753.9 550.2 753.0 556.0C752.1 561.8 750.0 569.0 750.0 569.0C750.0 569.0 715.0 569.0 715.0 569.0C715.0 569.0 713.2 559.8 712.4 554.0C711.6 548.2 711.5 545.2 711.0 540.0C710.5 534.8 709.7 532.4 710.0 528.0C710.3 523.6 711.0 521.1 712.4 518.0C713.8 514.9 714.9 514.2 717.0 512.4C719.1 510.6 721.2 508.3 723.0 509.0Z" fill="#fbc7c4"/>
<path d="M799.0 423.6C800.3 423.8 800.5 426.1 801.6 428.0C802.7 429.9 804.2 430.6 804.4 433.0C804.6 435.4 803.1 437.8 802.4 440.0C801.7 442.2 802.0 442.6 801.0 444.0C800.0 445.4 799.2 446.4 797.6 447.0C796.0 447.6 794.7 446.2 793.0 447.0C791.3 447.8 790.9 449.3 789.0 451.0C787.1 452.7 784.9 456.6 783.6 455.6C782.3 454.6 782.4 450.3 782.4 446.0C782.4 441.7 782.9 437.6 783.6 434.0C784.3 430.4 784.5 429.8 786.0 428.0C787.5 426.2 789.2 425.2 791.0 425.0C792.8 424.8 793.4 427.3 795.0 427.0C796.6 426.7 797.7 423.4 799.0 423.6Z" fill="#d3d4e8"/>
<path d="M824.0 521.6C825.7 521.8 827.1 523.7 828.4 527.0C829.7 530.3 830.3 533.0 830.4 538.0C830.5 543.0 829.8 545.8 829.0 552.0C828.2 558.2 826.4 569.0 826.4 569.0C826.4 569.0 817.6 569.0 817.6 569.0C817.6 569.0 816.9 558.6 817.0 552.0C817.1 545.4 817.4 541.2 818.0 536.0C818.6 530.8 818.8 528.9 820.0 526.0C821.2 523.1 822.3 521.4 824.0 521.6Z" fill="#fbc7c4"/>
<path d="M842.0 491.0C843.0 491.0 843.8 492.2 844.4 495.0C845.0 497.8 845.4 500.8 845.0 505.0C844.6 509.2 843.6 511.8 842.4 516.0C841.2 520.2 840.1 524.1 839.0 526.0C837.9 527.9 837.7 527.4 837.0 525.6C836.3 523.8 835.5 521.3 835.6 517.0C835.7 512.7 836.8 508.4 837.6 504.0C838.4 499.6 838.7 497.6 839.6 495.0C840.5 492.4 841.0 491.0 842.0 491.0Z" fill="#fbc7c4"/>
<path d="M909.0 517.0C907.8 507.4 905.8 518.6 903.0 521.0C900.2 523.4 897.8 525.2 895.0 529.0C892.2 532.8 891.0 535.4 889.0 540.0C887.0 544.6 886.3 546.2 885.0 552.0C883.7 557.8 882.4 569.0 882.4 569.0C882.4 569.0 909.0 569.0 909.0 569.0C909.0 569.0 910.2 526.6 909.0 517.0Z" fill="#fbc7c4"/>
<path d="M86.0 549.0C86.0 549.0 107.6 549.0 107.6 549.0C107.6 549.0 105.1 554.2 103.0 558.0C100.9 561.8 99.4 565.3 97.0 568.0C94.6 570.7 93.2 570.7 91.0 571.6C88.8 572.5 86.0 572.4 86.0 572.4C86.0 572.4 86.0 549.0 86.0 549.0Z" fill="#fbc7c4"/>
<path d="M142.0 549.0C142.0 549.0 140.6 555.0 140.0 560.0C139.4 565.0 139.0 568.0 139.0 574.0C139.0 580.0 139.3 584.4 140.0 590.0C140.7 595.6 141.2 597.4 142.4 602.0C143.6 606.6 144.5 610.9 146.0 613.0C147.5 615.1 148.8 613.8 150.0 612.4C151.2 611.0 151.6 618.7 152.0 606.0C152.4 593.3 152.0 549.0 152.0 549.0C152.0 549.0 142.0 549.0 142.0 549.0Z" fill="#d3d4e8"/>
<path d="M149.6 539.6C148.9 535.0 147.5 542.7 146.0 546.0C144.5 549.3 143.4 551.4 142.0 556.0C140.6 560.6 139.0 569.0 139.0 569.0C139.0 569.0 149.6 569.0 149.6 569.0C149.6 569.0 150.3 544.2 149.6 539.6Z" fill="#d3d4e8"/>
<path d="M88.0 612.0C90.0 610.4 92.8 607.9 96.0 606.0C99.2 604.1 101.2 603.2 104.0 602.4C106.8 601.6 108.2 601.3 110.0 602.0C111.8 602.7 111.7 605.1 113.0 606.0C114.3 606.9 115.4 604.4 116.4 606.4C117.4 608.4 117.8 610.5 118.0 616.0C118.2 621.5 117.9 626.4 117.6 634.0C117.3 641.6 117.1 647.2 116.4 654.0C115.7 660.8 115.3 663.2 114.0 668.0C112.7 672.8 111.6 674.0 110.0 678.0C108.4 682.0 107.6 684.0 106.0 688.0C104.4 692.0 103.4 694.4 102.0 698.0C100.6 701.6 100.0 702.4 99.0 706.0C98.0 709.6 97.3 711.6 97.0 716.0C96.7 720.4 96.8 726.4 97.6 728.0C98.4 729.6 99.7 725.4 101.0 724.0C102.3 722.6 102.6 721.8 104.0 721.0C105.4 720.2 106.2 721.2 108.0 720.0C109.8 718.8 111.6 714.2 113.0 715.0C114.4 715.8 114.2 719.2 115.0 724.0C115.8 728.8 117.0 739.0 117.0 739.0C117.0 739.0 86.0 739.0 86.0 739.0C86.0 739.0 86.0 614.0 86.0 614.0C86.0 614.0 86.0 613.6 88.0 612.0Z" fill="#d3d4e8"/>
<path d="M146.4 702.0C146.4 697.8 146.3 695.2 147.0 693.0C147.7 690.8 148.8 691.6 150.0 691.0C151.2 690.4 152.2 688.6 153.0 690.0C153.8 691.4 154.0 694.8 154.0 698.0C154.0 701.2 154.0 703.2 153.0 706.0C152.0 708.8 150.2 710.4 149.0 712.0C147.8 713.6 147.5 716.0 147.0 714.0C146.5 712.0 146.4 706.2 146.4 702.0Z" fill="#d3d4e8"/>
<path d="M382.0 549.0C382.0 549.0 380.2 554.2 379.0 558.0C377.8 561.8 377.0 563.6 376.0 568.0C375.0 572.4 374.7 574.4 374.0 580.0C373.3 585.6 372.9 590.0 372.4 596.0C371.9 602.0 372.1 604.0 371.6 610.0C371.1 616.0 370.5 620.0 370.0 626.0C369.5 632.0 369.1 635.8 369.0 640.0C368.9 644.2 369.0 646.0 369.6 647.0C370.2 648.0 371.1 644.0 372.0 645.0C372.9 646.0 373.1 648.6 374.0 652.0C374.9 655.4 375.3 658.0 376.4 662.0C377.5 666.0 378.4 667.8 379.6 672.0C380.8 676.2 381.1 679.2 382.4 683.0C383.7 686.8 384.7 688.2 386.0 691.0C387.3 693.8 387.8 694.0 389.0 697.0C390.2 700.0 390.8 703.4 392.0 706.0C393.2 708.6 393.6 707.8 395.0 710.0C396.4 712.2 397.2 714.2 399.0 717.0C400.8 719.8 401.8 721.0 404.0 724.0C406.2 727.0 407.2 730.8 410.0 732.0C412.8 733.2 418.0 730.0 418.0 730.0C418.0 730.0 548.0 730.0 548.0 730.0C548.0 730.0 548.0 687.0 548.0 687.0C548.0 687.0 542.2 688.6 539.0 688.4C535.8 688.2 535.0 686.8 532.0 686.0C529.0 685.2 527.2 684.6 524.0 684.4C520.8 684.2 518.8 685.0 516.0 685.0C513.2 685.0 512.0 686.2 510.0 684.4C508.0 682.6 507.6 678.6 506.0 676.0C504.4 673.4 503.8 673.2 502.0 671.6C500.2 670.0 498.5 668.9 497.0 668.0C495.5 667.1 495.2 669.0 494.4 667.0C493.6 665.0 493.3 662.2 493.0 658.0C492.7 653.8 492.7 651.2 493.0 646.0C493.3 640.8 493.6 637.6 494.4 632.0C495.2 626.4 495.9 623.2 497.0 618.0C498.1 612.8 498.8 611.0 500.0 606.0C501.2 601.0 501.8 597.4 503.0 593.0C504.2 588.6 504.4 586.8 506.0 584.0C507.6 581.2 509.2 581.0 511.0 579.0C512.8 577.0 513.8 577.4 515.0 574.0C516.2 570.6 516.6 567.0 517.0 562.0C517.4 557.0 517.0 549.0 517.0 549.0C517.0 549.0 382.0 549.0 382.0 549.0Z" fill="#fbc7c4"/>
<path d="M517.0 549.0C517.0 549.0 517.3 555.8 517.0 560.0C516.7 564.2 516.4 566.6 515.6 570.0C514.8 573.4 514.5 574.6 513.0 577.0C511.5 579.4 509.6 579.8 508.0 582.0C506.4 584.2 506.0 585.2 505.0 588.0C504.0 590.8 503.8 592.4 503.0 596.0C502.2 599.6 501.6 603.4 501.0 606.0C500.4 608.6 500.6 608.4 500.0 609.0C499.4 609.6 498.0 609.0 498.0 609.0C498.0 609.0 498.0 549.0 498.0 549.0C498.0 549.0 517.0 549.0 517.0 549.0Z" fill="#fbc7c4"/>
<path d="M500.0 669.6C501.2 670.3 502.6 671.1 504.0 673.0C505.4 674.9 505.9 676.7 507.0 679.0C508.1 681.3 507.8 683.3 509.6 684.4C511.4 685.5 513.1 684.5 516.0 684.4C518.9 684.3 520.8 683.7 524.0 684.0C527.2 684.3 529.0 685.1 532.0 686.0C535.0 686.9 536.2 688.3 539.0 688.4C541.8 688.5 543.6 686.5 546.0 686.6C548.4 686.7 549.0 687.7 551.0 689.0C553.0 690.3 554.2 691.2 556.0 693.0C557.8 694.8 558.6 695.4 560.0 698.0C561.4 700.6 561.9 702.4 563.0 706.0C564.1 709.6 564.8 712.0 565.6 716.0C566.4 720.0 566.6 721.4 567.0 726.0C567.4 730.6 567.6 739.0 567.6 739.0C567.6 739.0 498.0 739.0 498.0 739.0C498.0 739.0 498.0 669.6 498.0 669.6C498.0 669.6 498.8 668.9 500.0 669.6Z" fill="#fbc7c4"/>
<path d="M569.0 549.0C569.0 549.0 570.7 554.2 571.6 558.0C572.5 561.8 572.9 562.4 573.6 568.0C574.3 573.6 574.3 579.2 575.0 586.0C575.7 592.8 575.8 597.3 577.0 602.0C578.2 606.7 579.6 608.0 581.0 609.6C582.4 611.2 582.6 609.4 584.0 610.0C585.4 610.6 586.3 612.1 588.0 612.4C589.7 612.7 590.7 612.3 592.4 611.6C594.1 610.9 595.0 610.7 596.4 609.0C597.8 607.3 598.4 605.5 599.6 603.0C600.8 600.5 601.3 598.4 602.4 596.4C603.5 594.4 604.2 595.1 605.0 593.0C605.8 590.9 605.8 590.6 606.4 586.0C607.0 581.4 607.2 573.6 608.0 570.0C608.8 566.4 609.4 568.3 610.4 568.0C611.4 567.7 612.2 565.9 613.0 568.4C613.8 570.9 613.7 580.5 614.4 580.4C615.1 580.3 615.7 572.5 616.4 568.0C617.1 563.5 617.5 561.2 618.0 558.0C618.5 554.8 618.6 552.0 619.0 552.0C619.4 552.0 619.9 553.6 620.0 558.0C620.1 562.4 619.9 567.6 619.6 574.0C619.3 580.4 618.7 583.6 618.4 590.0C618.1 596.4 617.9 600.2 618.0 606.0C618.1 611.8 618.5 616.4 619.0 619.0C619.5 621.6 619.8 620.4 620.4 619.0C621.0 617.6 621.6 615.8 622.0 612.0C622.4 608.2 622.6 606.4 622.6 600.0C622.6 593.6 622.2 587.6 622.0 580.0C621.8 572.4 621.3 568.2 621.4 562.0C621.5 555.8 622.4 549.0 622.4 549.0C622.4 549.0 569.0 549.0 569.0 549.0Z" fill="#d3d4e8"/>
<path d="M644.0 549.0C644.0 549.0 641.6 553.8 640.0 558.0C638.4 562.2 637.3 564.4 636.0 570.0C634.7 575.6 634.4 579.6 633.6 586.0C632.8 592.4 632.2 595.6 632.0 602.0C631.8 608.4 632.1 612.0 632.4 618.0C632.7 624.0 632.7 627.5 633.6 632.0C634.5 636.5 635.7 639.2 637.0 640.4C638.3 641.6 639.1 638.9 640.0 638.0C640.9 637.1 640.6 635.9 641.6 636.0C642.6 636.1 643.7 637.6 645.0 638.4C646.3 639.2 646.8 639.2 648.0 640.0C649.2 640.8 650.0 641.2 651.0 642.4C652.0 643.6 652.1 644.2 653.0 646.0C653.9 647.8 654.7 650.2 655.6 651.6C656.5 653.0 656.8 654.5 657.6 653.0C658.4 651.5 658.9 649.4 659.6 644.0C660.3 638.6 660.5 633.6 661.0 626.0C661.5 618.4 661.6 614.0 662.0 606.0C662.4 598.0 662.8 593.2 663.0 586.0C663.2 578.8 663.2 575.6 663.0 570.0C662.8 564.4 662.5 562.2 662.0 558.0C661.5 553.8 660.4 549.0 660.4 549.0C660.4 549.0 644.0 549.0 644.0 549.0Z" fill="#d3d4e8"/>
<path d="M674.4 671.6C675.2 671.4 675.9 672.1 676.6 675.0C677.3 677.9 678.0 681.6 678.0 686.0C678.0 690.4 677.3 694.7 676.6 697.0C675.9 699.3 675.2 699.4 674.4 697.6C673.6 695.8 672.8 692.3 672.4 688.0C672.0 683.7 672.0 679.3 672.4 676.0C672.8 672.7 673.6 671.8 674.4 671.6Z" fill="#d3d4e8"/>
<path d="M594.4 689.6C595.2 688.6 595.9 690.5 596.4 692.0C596.9 693.5 597.2 694.9 597.0 697.0C596.8 699.1 596.1 700.4 595.6 702.4C595.1 704.4 594.9 707.1 594.4 707.0C593.9 706.9 593.6 704.0 593.2 702.0C592.8 700.0 592.2 699.5 592.4 697.0C592.6 694.5 593.6 690.6 594.4 689.6Z" fill="#fbc7c4"/>
<path d="M712.0 549.0C712.0 549.0 712.9 555.4 713.6 560.0C714.3 564.6 714.4 567.6 715.6 572.0C716.8 576.4 718.3 580.0 719.6 582.0C720.9 584.0 721.2 580.8 722.0 582.0C722.8 583.2 723.0 584.0 723.6 588.0C724.2 592.0 724.4 596.0 725.0 602.0C725.6 608.0 725.8 612.3 726.4 618.0C727.0 623.7 727.0 628.1 728.0 630.4C729.0 632.7 730.4 630.4 731.6 629.6C732.8 628.8 733.2 629.1 734.0 626.4C734.8 623.7 734.8 620.5 735.6 616.0C736.4 611.5 736.9 608.6 738.0 604.0C739.1 599.4 739.8 596.4 741.0 593.0C742.2 589.6 742.8 588.4 744.0 587.0C745.2 585.6 745.8 587.8 747.0 586.0C748.2 584.2 748.8 582.0 750.0 578.0C751.2 574.0 752.1 570.8 753.0 566.0C753.9 561.2 754.0 557.4 754.4 554.0C754.8 550.6 755.0 549.0 755.0 549.0C755.0 549.0 712.0 549.0 712.0 549.0Z" fill="#fbc7c4"/>
<path d="M817.6 549.0C817.6 549.0 817.4 557.0 817.6 562.0C817.8 567.0 817.8 570.6 818.4 574.0C819.0 577.4 819.5 578.8 820.4 579.0C821.3 579.2 821.9 577.0 823.0 575.0C824.1 573.0 825.0 572.0 826.0 569.0C827.0 566.0 827.3 564.0 828.0 560.0C828.7 556.0 829.6 549.0 829.6 549.0C829.6 549.0 817.6 549.0 817.6 549.0Z" fill="#fbc7c4"/>
<path d="M883.0 549.0C883.0 549.0 882.4 557.0 882.4 562.0C882.4 567.0 882.5 570.1 883.0 574.0C883.5 577.9 883.2 580.0 885.0 581.6C886.8 583.2 889.0 582.5 892.0 582.0C895.0 581.5 897.2 580.2 900.0 579.0C902.8 577.8 904.2 577.2 906.0 576.0C907.8 574.8 908.4 578.4 909.0 573.0C909.6 567.6 909.0 549.0 909.0 549.0C909.0 549.0 883.0 549.0 883.0 549.0Z" fill="#fbc7c4"/>
<path d="M909.0 612.4C907.8 587.4 905.4 613.1 903.0 614.0C900.6 614.9 899.2 615.2 897.0 617.0C894.8 618.8 893.8 619.6 892.0 623.0C890.2 626.4 889.4 629.0 888.0 634.0C886.6 639.0 886.2 642.0 885.0 648.0C883.8 654.0 883.2 657.2 882.0 664.0C880.8 670.8 880.2 675.2 879.0 682.0C877.8 688.8 877.2 691.6 876.0 698.0C874.8 704.4 874.2 708.0 873.0 714.0C871.8 720.0 871.0 723.0 870.0 728.0C869.0 733.0 868.0 739.0 868.0 739.0C868.0 739.0 909.0 739.0 909.0 739.0C909.0 739.0 910.2 637.4 909.0 612.4Z" fill="#d3d4e8"/>
<path d="M785.6 725.6C786.3 725.2 786.6 727.3 787.2 730.0C787.8 732.7 788.4 739.0 788.4 739.0C788.4 739.0 782.4 739.0 782.4 739.0C782.4 739.0 783.0 734.7 783.6 732.0C784.2 729.3 784.9 726.0 785.6 725.6Z" fill="#fbc7c4"/>
<path d="M86.0 689.0C86.0 689.0 86.0 770.0 86.0 770.0C86.0 770.0 90.0 775.6 92.0 780.0C94.0 784.4 94.4 787.6 96.0 792.0C97.6 796.4 98.4 798.6 100.0 802.0C101.6 805.4 102.4 807.1 104.0 809.0C105.6 810.9 106.0 812.2 108.0 811.6C110.0 811.0 111.8 808.7 114.0 806.0C116.2 803.3 117.3 802.0 119.0 798.0C120.7 794.0 121.6 790.8 122.4 786.0C123.2 781.2 123.0 779.6 123.0 774.0C123.0 768.4 122.8 764.0 122.4 758.0C122.0 752.0 121.9 748.0 121.0 744.0C120.1 740.0 119.0 740.8 118.0 738.0C117.0 735.2 116.6 734.0 116.0 730.0C115.4 726.0 115.6 721.0 115.0 718.0C114.4 715.0 114.2 714.6 113.0 715.0C111.8 715.4 110.6 718.8 109.0 720.0C107.4 721.2 106.6 720.3 105.0 721.0C103.4 721.7 102.5 722.2 101.0 723.6C99.5 725.0 98.6 728.7 97.6 728.0C96.6 727.3 96.1 723.2 96.0 720.0C95.9 716.8 96.2 715.6 97.0 712.0C97.8 708.4 98.6 706.6 100.0 702.0C101.4 697.4 104.0 689.0 104.0 689.0C104.0 689.0 86.0 689.0 86.0 689.0Z" fill="#d3d4e8"/>
<path d="M217.6 783.6C218.8 783.4 219.7 785.5 221.0 788.0C222.3 790.5 222.6 793.4 224.0 796.0C225.4 798.6 226.6 798.6 228.0 801.0C229.4 803.4 229.9 805.4 231.0 808.0C232.1 810.6 232.8 811.2 233.6 814.0C234.4 816.8 234.6 818.0 235.0 822.0C235.4 826.0 235.3 829.2 235.6 834.0C235.9 838.8 235.9 841.6 236.4 846.0C236.9 850.4 237.5 852.4 238.0 856.0C238.5 859.6 239.8 862.5 239.0 864.0C238.2 865.5 235.8 865.2 234.0 863.6C232.2 862.0 231.6 859.5 230.0 856.0C228.4 852.5 227.5 850.4 226.0 846.0C224.5 841.6 223.6 838.8 222.4 834.0C221.2 829.2 221.0 826.8 220.0 822.0C219.0 817.2 218.5 814.8 217.6 810.0C216.7 805.2 216.1 802.2 215.6 798.0C215.1 793.8 214.6 791.9 215.0 789.0C215.4 786.1 216.4 783.8 217.6 783.6Z" fill="#fbc7c4"/>
<path d="M386.0 689.0C386.0 689.0 388.4 694.4 390.0 698.0C391.6 701.6 392.2 703.4 394.0 707.0C395.8 710.6 397.0 712.8 399.0 716.0C401.0 719.2 401.8 720.0 404.0 723.0C406.2 726.0 407.6 727.6 410.0 731.0C412.4 734.4 413.8 737.3 416.0 740.0C418.2 742.7 419.0 743.9 421.0 744.4C423.0 744.9 423.9 742.4 426.0 742.4C428.1 742.4 429.2 744.7 431.6 744.4C434.0 744.1 435.5 742.7 438.0 741.0C440.5 739.3 441.8 736.6 444.0 736.0C446.2 735.4 447.0 737.5 449.0 738.0C451.0 738.5 451.9 739.1 454.0 738.4C456.1 737.7 457.9 734.3 459.6 734.4C461.3 734.5 461.3 735.9 462.4 739.0C463.5 742.1 464.0 745.0 465.0 750.0C466.0 755.0 466.4 758.4 467.6 764.0C468.8 769.6 469.5 772.8 471.0 778.0C472.5 783.2 473.4 785.4 475.0 790.0C476.6 794.6 477.2 796.6 479.0 801.0C480.8 805.4 482.2 808.0 484.0 812.0C485.8 816.0 486.6 817.4 488.0 821.0C489.4 824.6 489.8 827.1 491.0 830.0C492.2 832.9 492.4 834.0 494.0 835.6C495.6 837.2 497.0 838.1 499.0 838.0C501.0 837.9 501.8 836.4 504.0 835.0C506.2 833.6 507.6 832.8 510.0 831.0C512.4 829.2 513.6 828.2 516.0 826.0C518.4 823.8 519.8 823.2 522.0 820.0C524.2 816.8 525.2 813.6 527.0 810.0C528.8 806.4 529.6 804.8 531.0 802.0C532.4 799.2 532.2 798.2 534.0 796.0C535.8 793.8 537.2 793.2 540.0 791.0C542.8 788.8 548.0 785.0 548.0 785.0C548.0 785.0 548.0 689.0 548.0 689.0C548.0 689.0 386.0 689.0 386.0 689.0Z" fill="#fbc7c4"/>
<path d="M365.6 782.0C366.4 781.2 367.0 784.8 367.6 788.0C368.2 791.2 368.5 793.6 368.4 798.0C368.3 802.4 367.8 806.9 367.0 810.0C366.2 813.1 365.2 814.8 364.4 813.6C363.6 812.4 363.2 808.3 363.0 804.0C362.8 799.7 363.1 796.4 363.6 792.0C364.1 787.6 364.8 782.8 365.6 782.0Z" fill="#d3d4e8"/>
<path d="M552.0 689.0C552.0 689.0 557.7 693.2 560.0 697.0C562.3 700.8 562.3 703.4 563.6 708.0C564.9 712.6 565.6 715.2 566.4 720.0C567.2 724.8 567.6 726.8 567.6 732.0C567.6 737.2 567.3 740.6 566.4 746.0C565.5 751.4 564.7 754.6 563.0 759.0C561.3 763.4 560.0 764.0 558.0 768.0C556.0 772.0 555.4 775.4 553.0 779.0C550.6 782.6 548.6 783.8 546.0 786.0C543.4 788.2 542.4 788.0 540.0 790.0C537.6 792.0 536.0 793.0 534.0 796.0C532.0 799.0 531.6 801.8 530.0 805.0C528.4 808.2 527.8 809.0 526.0 812.0C524.2 815.0 523.2 817.4 521.0 820.0C518.8 822.6 517.2 823.0 515.0 825.0C512.8 827.0 512.2 828.0 510.0 830.0C507.8 832.0 506.0 833.5 504.0 835.0C502.0 836.5 501.2 837.0 500.0 837.6C498.8 838.2 498.0 838.0 498.0 838.0C498.0 838.0 498.0 689.0 498.0 689.0C498.0 689.0 552.0 689.0 552.0 689.0Z" fill="#fbc7c4"/>
<path d="M663.0 770.0C665.0 770.2 665.6 771.6 667.0 774.0C668.4 776.4 668.7 778.0 670.0 782.0C671.3 786.0 672.4 789.2 673.6 794.0C674.8 798.8 675.3 801.2 676.0 806.0C676.7 810.8 677.1 813.6 677.0 818.0C676.9 822.4 676.7 824.8 675.6 828.0C674.5 831.2 673.4 831.8 671.6 834.0C669.8 836.2 668.2 838.5 666.4 839.0C664.6 839.5 664.1 837.8 662.4 836.4C660.7 835.0 659.5 834.9 658.0 832.0C656.5 829.1 655.9 826.4 655.0 822.0C654.1 817.6 654.0 815.2 653.6 810.0C653.2 804.8 652.9 801.6 653.0 796.0C653.1 790.4 653.2 786.6 654.0 782.0C654.8 777.4 655.2 775.4 657.0 773.0C658.8 770.6 661.0 769.8 663.0 770.0Z" fill="#fbc7c4"/>
<path d="M748.0 758.0C749.0 758.0 749.9 757.8 751.0 761.0C752.1 764.2 752.8 768.2 753.6 774.0C754.4 779.8 754.6 782.8 755.0 790.0C755.4 797.2 755.6 802.0 755.6 810.0C755.6 818.0 755.4 823.0 755.0 830.0C754.6 837.0 754.4 841.4 753.6 845.0C752.8 848.6 751.8 845.8 751.0 848.0C750.2 850.2 750.2 852.4 749.6 856.0C749.0 859.6 748.0 866.0 748.0 866.0C748.0 866.0 730.0 866.0 730.0 866.0C730.0 866.0 730.2 854.0 730.4 846.0C730.6 838.0 730.8 834.8 731.0 826.0C731.2 817.2 731.3 810.8 731.6 802.0C731.9 793.2 732.0 788.8 732.4 782.0C732.8 775.2 733.1 772.2 733.6 768.0C734.1 763.8 734.3 762.2 735.0 761.0C735.7 759.8 736.4 761.0 737.0 762.0C737.6 763.0 737.4 765.3 738.0 766.0C738.6 766.7 739.2 765.0 740.0 765.6C740.8 766.2 741.1 768.7 742.0 769.0C742.9 769.3 743.6 768.6 744.4 767.0C745.2 765.4 745.3 762.8 746.0 761.0C746.7 759.2 747.0 758.0 748.0 758.0Z" fill="#d3d4e8"/>
<path d="M715.6 741.0C716.3 741.0 717.0 744.6 717.6 748.0C718.2 751.4 718.4 753.8 718.4 758.0C718.4 762.2 718.1 766.7 717.6 769.0C717.1 771.3 716.6 771.8 716.0 769.6C715.4 767.4 714.8 762.3 714.4 758.0C714.0 753.7 713.8 751.4 714.0 748.0C714.2 744.6 714.9 741.0 715.6 741.0Z" fill="#d3d4e8"/>
<path d="M785.6 725.6C786.6 724.8 787.3 729.5 788.0 733.0C788.7 736.5 789.2 738.8 789.0 743.0C788.8 747.2 788.1 750.3 787.0 754.0C785.9 757.7 784.5 762.4 783.6 761.6C782.7 760.8 782.6 754.9 782.4 750.0C782.2 745.1 782.2 741.9 782.8 737.0C783.4 732.1 784.6 726.4 785.6 725.6Z" fill="#fbc7c4"/>
<path d="M877.0 689.0C877.0 689.0 875.2 696.2 874.0 702.0C872.8 707.8 872.1 711.6 871.0 718.0C869.9 724.4 869.3 727.6 868.4 734.0C867.5 740.4 866.7 745.0 866.4 750.0C866.1 755.0 866.1 756.0 867.0 759.0C867.9 762.0 869.4 762.9 871.0 765.0C872.6 767.1 873.4 768.8 875.0 769.6C876.6 770.4 877.6 769.6 879.0 769.0C880.4 768.4 880.4 767.2 882.0 766.4C883.6 765.6 885.4 765.6 887.0 765.0C888.6 764.4 888.6 763.4 890.0 763.6C891.4 763.8 892.4 764.9 894.0 766.0C895.6 767.1 896.2 768.0 898.0 769.0C899.8 770.0 900.8 771.0 903.0 771.0C905.2 771.0 907.8 785.4 909.0 769.0C910.2 752.6 909.0 689.0 909.0 689.0C909.0 689.0 877.0 689.0 877.0 689.0Z" fill="#d3d4e8"/>
<path d="M169.0 117.0C169.4 115.9 171.4 114.2 173.0 114.0C174.6 113.8 175.9 114.8 177.0 116.0C178.1 117.2 178.4 118.5 178.4 120.0C178.4 121.5 177.9 123.3 177.0 123.6C176.1 123.9 175.2 122.4 174.0 121.6C172.8 120.8 172.0 120.5 171.0 119.6C170.0 118.7 168.6 118.1 169.0 117.0Z" fill="#ffffff"/>
<path d="M323.6 110.0C324.0 108.4 324.8 107.8 325.2 109.0C325.6 110.2 325.8 113.8 325.6 116.0C325.4 118.2 324.9 119.8 324.4 120.0C323.9 120.2 323.4 119.0 323.2 117.0C323.0 115.0 323.2 111.6 323.6 110.0Z" fill="#ffffff"/>
<path d="M369.8 46.0C370.2 41.0 371.5 42.6 372.0 45.0C372.5 47.4 372.5 52.2 372.4 58.0C372.3 63.8 372.1 71.6 371.6 74.0C371.1 76.4 370.4 75.6 370.0 70.0C369.6 64.4 369.4 51.0 369.8 46.0Z" fill="#ffffff"/>
<path d="M398.2 43.0C398.6 41.2 399.8 40.8 400.2 43.0C400.6 45.2 400.3 50.6 400.0 54.0C399.7 57.4 399.2 60.4 398.8 60.0C398.4 59.6 398.1 55.4 398.0 52.0C397.9 48.6 397.8 44.8 398.2 43.0Z" fill="#ffffff"/>
<path d="M362.0 84.0C362.2 83.2 363.2 82.5 363.6 83.0C364.0 83.5 364.2 85.6 364.0 86.4C363.8 87.2 362.8 87.7 362.4 87.2C362.0 86.7 361.8 84.8 362.0 84.0Z" fill="#ffffff"/>
<path d="M322.0 227.0C321.5 224.6 321.7 218.0 322.0 215.0C322.3 212.0 323.0 211.8 323.6 212.0C324.2 212.2 324.8 213.0 325.0 216.0C325.2 219.0 325.0 224.8 324.4 227.0C323.8 229.2 322.5 229.4 322.0 227.0Z" fill="#ffffff"/>
<path d="M321.6 224.0C321.3 221.0 321.2 216.6 321.6 214.0C322.0 211.4 322.9 211.0 323.6 211.0C324.3 211.0 324.9 211.4 325.2 214.0C325.5 216.6 325.6 221.0 325.2 224.0C324.8 227.0 323.7 229.0 323.0 229.0C322.3 229.0 321.9 227.0 321.6 224.0Z" fill="#ffffff"/>
<path d="M522.0 317.6C522.5 314.7 525.0 314.5 527.0 312.0C529.0 309.5 530.1 307.3 532.0 305.0C533.9 302.7 534.9 300.6 536.4 300.4C537.9 300.2 539.0 302.1 539.6 304.0C540.2 305.9 539.9 307.2 539.6 310.0C539.3 312.8 539.3 315.4 538.0 318.0C536.7 320.6 535.7 321.3 533.0 323.0C530.3 324.7 526.6 327.5 524.4 326.4C522.2 325.3 521.5 320.5 522.0 317.6Z" fill="#ffffff"/>
<path d="M86.0 50.0C86.0 50.0 90.2 50.2 92.0 51.0C93.8 51.8 95.2 52.6 95.0 54.0C94.8 55.4 92.8 56.8 91.0 58.0C89.2 59.2 86.0 60.0 86.0 60.0C86.0 60.0 86.0 50.0 86.0 50.0Z" fill="#a5bddb"/>
<path d="M91.0 85.0C92.1 84.0 95.2 83.0 97.0 83.0C98.8 83.0 100.2 84.1 100.0 85.0C99.8 85.9 97.7 87.0 96.0 87.6C94.3 88.2 92.6 88.5 91.6 88.0C90.6 87.5 89.9 86.0 91.0 85.0Z" fill="#f99fb5"/>
<path d="M123.6 128.0C123.6 126.2 123.9 125.4 125.6 124.0C127.3 122.6 129.1 122.4 132.0 121.0C134.9 119.6 137.9 119.2 140.0 117.0C142.1 114.8 141.6 112.2 142.4 110.0C143.2 107.8 141.9 107.3 144.0 106.0C146.1 104.7 150.0 104.5 153.0 103.6C156.0 102.7 156.4 101.4 159.0 101.6C161.6 101.8 163.9 103.3 166.0 104.4C168.1 105.5 169.6 105.8 169.6 107.0C169.6 108.2 167.7 109.4 166.0 110.4C164.3 111.4 162.8 110.9 161.0 112.0C159.2 113.1 158.0 114.6 157.0 116.0C156.0 117.4 154.6 118.0 156.0 119.0C157.4 120.0 161.7 120.0 164.0 121.0C166.3 122.0 167.2 122.6 167.6 124.0C168.0 125.4 168.3 126.7 166.0 128.0C163.7 129.3 160.0 129.4 156.0 130.4C152.0 131.4 149.6 132.0 146.0 133.0C142.4 134.0 141.0 135.0 138.0 135.6C135.0 136.2 133.5 136.5 131.0 136.0C128.5 135.5 127.1 134.6 125.6 133.0C124.1 131.4 123.6 129.8 123.6 128.0Z" fill="#f99fb5"/>
<path d="M184.0 106.0C184.8 103.4 187.0 101.2 189.0 98.0C191.0 94.8 192.0 92.8 194.0 90.0C196.0 87.2 197.5 84.6 199.0 84.0C200.5 83.4 201.1 84.6 201.6 87.0C202.1 89.4 202.1 92.6 201.6 96.0C201.1 99.4 200.3 101.2 199.0 104.0C197.7 106.8 196.9 108.2 195.0 110.0C193.1 111.8 191.6 112.8 189.6 113.0C187.6 113.2 186.1 112.4 185.0 111.0C183.9 109.6 183.2 108.6 184.0 106.0Z" fill="#f99fb5"/>
<path d="M182.4 84.0C181.6 82.8 181.3 79.2 182.0 76.0C182.7 72.8 184.4 70.5 186.0 68.0C187.6 65.5 187.8 64.6 190.0 63.6C192.2 62.6 195.6 62.5 197.0 63.0C198.4 63.5 197.6 64.2 197.0 66.0C196.4 67.8 195.2 69.6 194.0 72.0C192.8 74.4 192.6 76.0 191.0 78.0C189.4 80.0 187.7 80.8 186.0 82.0C184.3 83.2 183.2 85.2 182.4 84.0Z" fill="#a5bddb"/>
<path d="M234.0 75.0C235.2 75.2 235.6 77.4 236.0 80.0C236.4 82.6 236.6 84.8 236.0 88.0C235.4 91.2 234.4 92.8 233.0 96.0C231.6 99.2 230.8 101.8 229.0 104.0C227.2 106.2 225.9 106.6 224.0 107.0C222.1 107.4 220.4 107.2 219.6 106.0C218.8 104.8 219.3 103.6 220.0 101.0C220.7 98.4 221.8 96.2 223.0 93.0C224.2 89.8 224.6 87.8 226.0 85.0C227.4 82.2 228.4 81.0 230.0 79.0C231.6 77.0 232.8 74.8 234.0 75.0Z" fill="#f99fb5"/>
<path d="M189.6 138.0C190.0 135.2 192.9 135.4 195.0 134.0C197.1 132.6 198.8 129.8 200.0 131.0C201.2 132.2 201.1 136.4 201.0 140.0C200.9 143.6 200.5 146.0 199.6 149.0C198.7 152.0 197.7 155.2 196.4 155.0C195.1 154.8 194.4 151.4 193.0 148.0C191.6 144.6 189.2 140.8 189.6 138.0Z" fill="#a5bddb"/>
<path d="M141.6 170.0C142.4 168.7 144.9 167.7 148.0 166.0C151.1 164.3 153.4 163.5 157.0 161.6C160.6 159.7 163.6 156.3 166.0 156.4C168.4 156.5 167.4 159.7 169.0 162.0C170.6 164.3 174.2 165.7 174.0 168.0C173.8 170.3 170.8 172.1 168.0 173.6C165.2 175.1 163.6 175.5 160.0 175.6C156.4 175.7 153.2 174.6 150.0 174.0C146.8 173.4 145.7 173.2 144.0 172.4C142.3 171.6 140.8 171.3 141.6 170.0Z" fill="#a5bddb"/>
<path d="M139.6 201.0C140.1 200.3 141.3 199.3 143.0 199.0C144.7 198.7 146.8 199.1 148.0 199.6C149.2 200.1 149.6 200.9 149.0 201.6C148.4 202.3 146.7 202.8 145.0 203.0C143.3 203.2 141.5 202.8 140.4 202.4C139.3 202.0 139.1 201.7 139.6 201.0Z" fill="#a5bddb"/>
<path d="M316.0 128.0C316.1 126.6 317.1 124.2 318.0 123.6C318.9 123.0 320.0 123.9 320.4 125.0C320.8 126.1 320.6 127.9 320.0 129.0C319.4 130.1 318.4 130.6 317.6 130.4C316.8 130.2 315.9 129.4 316.0 128.0Z" fill="#f99fb5"/>
<path d="M327.6 122.0C327.6 119.2 327.7 114.1 328.4 110.0C329.1 105.9 330.3 102.4 331.0 101.6C331.7 100.8 332.2 103.1 332.0 106.0C331.8 108.9 330.7 112.4 330.0 116.0C329.3 119.6 328.9 122.8 328.4 124.0C327.9 125.2 327.6 124.8 327.6 122.0Z" fill="#f99fb5"/>
<path d="M334.4 108.0C334.4 106.0 335.0 101.4 335.6 99.0C336.2 96.6 336.9 95.4 337.2 96.0C337.5 96.6 337.5 99.4 337.2 102.0C336.9 104.6 336.2 107.8 335.6 109.0C335.0 110.2 334.4 110.0 334.4 108.0Z" fill="#f99fb5"/>
<path d="M316.0 105.0C316.8 104.4 319.4 104.2 320.4 104.6C321.4 105.0 321.6 106.6 320.8 107.2C320.0 107.8 317.4 108.0 316.4 107.6C315.4 107.2 315.2 105.6 316.0 105.0Z" fill="#f99fb5"/>
<path d="M293.0 105.0C293.4 104.4 295.0 104.0 295.6 104.4C296.2 104.8 296.4 106.4 296.0 107.0C295.6 107.6 294.0 108.0 293.4 107.6C292.8 107.2 292.6 105.6 293.0 105.0Z" fill="#f99fb5"/>
<path d="M342.4 120.0C342.2 116.6 342.9 113.2 343.6 108.0C344.3 102.8 344.9 99.2 346.0 94.0C347.1 88.8 347.7 86.3 349.0 82.0C350.3 77.7 351.4 73.8 352.4 72.4C353.4 71.0 353.9 71.9 354.0 75.0C354.1 78.1 353.8 82.2 353.0 88.0C352.2 93.8 351.2 98.0 350.0 104.0C348.8 110.0 348.1 113.8 347.0 118.0C345.9 122.2 345.3 124.6 344.4 125.0C343.5 125.4 342.6 123.4 342.4 120.0Z" fill="#f99fb5"/>
<path d="M382.0 43.0C384.7 39.6 391.9 40.4 394.0 43.0C396.1 45.6 393.4 50.6 392.4 56.0C391.4 61.4 390.3 64.8 389.0 70.0C387.7 75.2 386.7 77.2 386.0 82.0C385.3 86.8 385.8 89.6 385.6 94.0C385.4 98.4 385.9 100.0 385.0 104.0C384.1 108.0 383.0 110.4 381.0 114.0C379.0 117.6 377.0 119.6 375.0 122.0C373.0 124.4 372.2 126.8 371.0 126.0C369.8 125.2 369.3 122.0 369.0 118.0C368.7 114.0 368.9 110.8 369.6 106.0C370.3 101.2 371.1 97.8 372.4 94.0C373.7 90.2 374.7 90.6 376.0 87.0C377.3 83.4 378.1 81.4 379.0 76.0C379.9 70.6 379.8 66.6 380.4 60.0C381.0 53.4 379.3 46.4 382.0 43.0Z" fill="#f99fb5"/>
<path d="M432.0 43.0C433.8 42.0 436.9 41.2 438.0 43.0C439.1 44.8 438.2 48.6 437.6 52.0C437.0 55.4 436.3 57.0 435.0 60.0C433.7 63.0 432.4 65.4 431.0 67.0C429.6 68.6 429.0 69.0 428.0 68.0C427.0 67.0 426.2 64.8 426.0 62.0C425.8 59.2 426.4 56.8 427.0 54.0C427.6 51.2 428.0 50.2 429.0 48.0C430.0 45.8 430.2 44.0 432.0 43.0Z" fill="#f99fb5"/>
<path d="M482.0 43.0C487.6 42.2 501.4 41.6 505.0 43.0C508.6 44.4 502.2 47.2 500.0 50.0C497.8 52.8 496.8 54.6 494.0 57.0C491.2 59.4 489.2 60.6 486.0 62.0C482.8 63.4 481.0 63.2 478.0 64.0C475.0 64.8 473.2 64.8 471.0 66.0C468.8 67.2 468.2 70.2 467.0 70.0C465.8 69.8 465.0 67.6 465.0 65.0C465.0 62.4 465.8 59.8 467.0 57.0C468.2 54.2 469.0 53.0 471.0 51.0C473.0 49.0 474.8 48.6 477.0 47.0C479.2 45.4 476.4 43.8 482.0 43.0Z" fill="#f99fb5"/>
<path d="M439.6 106.0C439.3 105.4 439.7 101.4 440.4 99.0C441.1 96.6 441.9 94.8 443.0 94.0C444.1 93.2 445.6 94.0 446.0 95.0C446.4 96.0 445.8 97.6 445.0 99.0C444.2 100.4 443.1 100.6 442.0 102.0C440.9 103.4 439.9 106.6 439.6 106.0Z" fill="#f99fb5"/>
<path d="M487.0 127.0C487.4 124.6 489.4 124.2 492.0 122.0C494.6 119.8 496.8 117.7 500.0 116.0C503.2 114.3 506.1 113.0 508.0 113.6C509.9 114.2 509.6 116.3 509.6 119.0C509.6 121.7 509.5 124.3 508.0 127.0C506.5 129.7 504.8 130.7 502.0 132.4C499.2 134.1 496.4 135.3 494.0 135.6C491.6 135.9 491.4 135.7 490.0 134.0C488.6 132.3 486.6 129.4 487.0 127.0Z" fill="#a5bddb"/>
<path d="M375.0 192.0C374.5 188.8 373.8 184.4 374.0 180.0C374.2 175.6 375.2 173.0 376.0 170.0C376.8 167.0 377.2 164.6 378.0 165.0C378.8 165.4 379.4 169.0 380.0 172.0C380.6 175.0 381.2 176.6 381.0 180.0C380.8 183.4 379.9 185.8 379.0 189.0C378.1 192.2 377.2 195.4 376.4 196.0C375.6 196.6 375.5 195.2 375.0 192.0Z" fill="#a5bddb"/>
<path d="M599.0 118.0C599.2 116.0 602.0 113.6 604.0 113.0C606.0 112.4 607.0 116.0 609.0 115.0C611.0 114.0 611.8 110.6 614.0 108.0C616.2 105.4 617.2 104.2 620.0 102.0C622.8 99.8 624.4 98.8 628.0 97.0C631.6 95.2 634.4 94.2 638.0 93.0C641.6 91.8 643.0 91.8 646.0 91.0C649.0 90.2 650.6 88.4 653.0 89.0C655.4 89.6 656.6 92.4 658.0 94.0C659.4 95.6 658.8 96.8 660.0 97.0C661.2 97.2 662.0 94.8 664.0 95.0C666.0 95.2 667.6 98.4 670.0 98.0C672.4 97.6 673.2 95.0 676.0 93.0C678.8 91.0 680.4 89.7 684.0 88.0C687.6 86.3 690.4 86.0 694.0 84.4C697.6 82.8 698.8 81.7 702.0 80.0C705.2 78.3 706.8 77.6 710.0 76.0C713.2 74.4 715.6 73.2 718.0 72.0C720.4 70.8 720.4 70.0 722.0 70.0C723.6 70.0 724.0 72.8 726.0 72.0C728.0 71.2 729.6 69.2 732.0 66.0C734.4 62.8 736.0 60.6 738.0 56.0C740.0 51.4 738.0 45.6 742.0 43.0C746.0 40.4 758.0 43.0 758.0 43.0C758.0 43.0 757.0 46.6 755.0 50.0C753.0 53.4 751.0 56.4 748.0 60.0C745.0 63.6 742.2 65.2 740.0 68.0C737.8 70.8 738.6 71.0 737.0 74.0C735.4 77.0 734.6 79.8 732.0 83.0C729.4 86.2 727.2 87.2 724.0 90.0C720.8 92.8 719.6 94.4 716.0 97.0C712.4 99.6 710.0 100.8 706.0 103.0C702.0 105.2 700.0 106.8 696.0 108.0C692.0 109.2 689.6 108.4 686.0 109.0C682.4 109.6 681.2 109.8 678.0 111.0C674.8 112.2 673.6 114.8 670.0 115.0C666.4 115.2 664.4 112.0 660.0 112.0C655.6 112.0 652.4 113.6 648.0 115.0C643.6 116.4 641.6 117.0 638.0 119.0C634.4 121.0 633.6 123.2 630.0 125.0C626.4 126.8 623.4 127.4 620.0 128.0C616.6 128.6 615.2 129.6 613.0 128.0C610.8 126.4 611.0 121.0 609.0 120.0C607.0 119.0 605.0 123.4 603.0 123.0C601.0 122.6 598.8 120.0 599.0 118.0Z" fill="#a5bddb"/>
<path d="M616.4 169.6C616.4 166.8 619.7 166.5 622.0 164.0C624.3 161.5 625.2 160.2 628.0 157.0C630.8 153.8 632.4 150.2 636.0 148.0C639.6 145.8 642.0 146.8 646.0 146.0C650.0 145.2 652.0 145.2 656.0 144.0C660.0 142.8 662.0 141.8 666.0 140.0C670.0 138.2 672.0 136.5 676.0 135.0C680.0 133.5 682.0 133.6 686.0 132.4C690.0 131.2 692.8 130.7 696.0 129.0C699.2 127.3 699.6 126.2 702.0 124.0C704.4 121.8 705.2 119.8 708.0 118.0C710.8 116.2 712.4 115.9 716.0 115.0C719.6 114.1 722.4 113.2 726.0 113.6C729.6 114.0 733.2 114.5 734.0 117.0C734.8 119.5 732.0 122.2 730.0 126.0C728.0 129.8 726.8 132.6 724.0 136.0C721.2 139.4 719.2 140.4 716.0 143.0C712.8 145.6 711.2 146.8 708.0 149.0C704.8 151.2 703.2 152.6 700.0 154.0C696.8 155.4 695.2 154.4 692.0 156.0C688.8 157.6 687.2 159.6 684.0 162.0C680.8 164.4 678.8 166.0 676.0 168.0C673.2 170.0 672.8 171.0 670.0 172.0C667.2 173.0 665.2 172.2 662.0 173.0C658.8 173.8 657.2 174.6 654.0 176.0C650.8 177.4 649.2 178.4 646.0 180.0C642.8 181.6 640.8 182.2 638.0 184.0C635.2 185.8 634.2 188.6 632.0 189.0C629.8 189.4 629.0 188.2 627.0 186.0C625.0 183.8 624.1 181.3 622.0 178.0C619.9 174.7 616.4 172.4 616.4 169.6Z" fill="#f99fb5"/>
<path d="M764.0 43.0C765.5 40.8 769.9 40.8 771.0 43.0C772.1 45.2 770.4 49.8 769.6 54.0C768.8 58.2 768.0 60.8 767.0 64.0C766.0 67.2 765.2 70.0 764.4 70.0C763.6 70.0 763.2 67.2 763.0 64.0C762.8 60.8 763.4 58.2 763.6 54.0C763.8 49.8 762.5 45.2 764.0 43.0Z" fill="#a5bddb"/>
<path d="M780.0 43.0C788.3 41.6 813.8 41.6 821.0 43.0C828.2 44.4 818.2 47.4 816.0 50.0C813.8 52.6 812.8 54.0 810.0 56.0C807.2 58.0 805.2 59.0 802.0 60.0C798.8 61.0 797.2 60.2 794.0 61.0C790.8 61.8 788.8 63.0 786.0 64.0C783.2 65.0 781.4 67.2 780.0 66.0C778.6 64.8 779.1 61.2 779.0 58.0C778.9 54.8 779.4 53.0 779.6 50.0C779.8 47.0 771.7 44.4 780.0 43.0Z" fill="#a5bddb"/>
<path d="M851.0 43.0C854.0 42.2 862.6 41.8 864.0 43.0C865.4 44.2 860.8 46.8 858.0 49.0C855.2 51.2 852.4 53.2 850.0 54.0C847.6 54.8 846.2 54.4 846.0 53.0C845.8 51.6 848.0 49.0 849.0 47.0C850.0 45.0 848.0 43.8 851.0 43.0Z" fill="#f99fb5"/>
<path d="M888.0 49.0C892.4 47.2 893.2 46.6 898.0 46.0C902.8 45.4 912.0 46.0 912.0 46.0C912.0 46.0 912.0 66.0 912.0 66.0C912.0 66.0 904.4 68.0 900.0 70.0C895.6 72.0 894.0 73.2 890.0 76.0C886.0 78.8 883.2 81.2 880.0 84.0C876.8 86.8 876.4 87.8 874.0 90.0C871.6 92.2 871.4 93.8 868.0 95.0C864.6 96.2 860.2 96.8 857.0 96.0C853.8 95.2 853.6 93.0 852.0 91.0C850.4 89.0 849.0 88.2 849.0 86.0C849.0 83.8 850.2 82.6 852.0 80.0C853.8 77.4 855.2 76.2 858.0 73.0C860.8 69.8 862.4 67.6 866.0 64.0C869.6 60.4 871.6 58.0 876.0 55.0C880.4 52.0 883.6 50.8 888.0 49.0Z" fill="#a5bddb"/>
<path d="M836.0 149.0C837.1 149.6 837.4 152.2 837.6 156.0C837.8 159.8 837.5 163.2 837.0 168.0C836.5 172.8 836.0 175.6 835.0 180.0C834.0 184.4 833.2 187.3 832.0 190.0C830.8 192.7 830.2 193.6 829.0 193.6C827.8 193.6 827.0 192.7 826.0 190.0C825.0 187.3 823.8 184.0 824.0 180.0C824.2 176.0 826.0 174.0 827.0 170.0C828.0 166.0 828.0 163.4 829.0 160.0C830.0 156.6 830.6 155.2 832.0 153.0C833.4 150.8 834.9 148.4 836.0 149.0Z" fill="#a5bddb"/>
<path d="M578.0 396.0C580.0 394.8 582.8 393.4 586.0 392.0C589.2 390.6 591.2 391.0 594.0 389.0C596.8 387.0 597.6 383.9 600.0 382.0C602.4 380.1 603.6 379.9 606.0 379.6C608.4 379.3 609.2 380.2 612.0 380.4C614.8 380.6 617.4 380.9 620.0 380.4C622.6 379.9 623.2 379.5 625.0 378.0C626.8 376.5 627.4 374.5 629.0 373.0C630.6 371.5 631.2 370.2 633.0 370.4C634.8 370.6 636.4 372.4 638.0 374.0C639.6 375.6 639.8 377.1 641.0 378.4C642.2 379.7 644.0 378.1 644.0 380.4C644.0 382.7 642.6 386.5 641.0 390.0C639.4 393.5 636.0 398.0 636.0 398.0C636.0 398.0 576.0 398.0 576.0 398.0C576.0 398.0 576.0 397.2 578.0 396.0Z" fill="#f99fb5"/>
<path d="M143.0 489.6C142.7 489.2 143.0 486.9 143.6 486.0C144.2 485.1 145.7 484.6 146.0 485.0C146.3 485.4 145.6 487.1 145.0 488.0C144.4 488.9 143.3 490.0 143.0 489.6Z" fill="#f99fb5"/>
<path d="M229.0 497.0C228.2 494.5 227.6 490.2 228.0 486.0C228.4 481.8 229.4 479.4 231.0 476.0C232.6 472.6 233.7 471.2 236.0 469.0C238.3 466.8 241.0 464.0 242.4 465.0C243.8 466.0 243.5 470.2 243.0 474.0C242.5 477.8 241.4 480.0 240.0 484.0C238.6 488.0 237.6 491.1 236.0 494.0C234.4 496.9 233.4 497.8 232.0 498.4C230.6 499.0 229.8 499.5 229.0 497.0Z" fill="#f99fb5"/>
<path d="M189.6 548.4C190.9 546.2 194.0 546.7 195.0 548.0C196.0 549.3 195.0 552.4 194.4 555.0C193.8 557.6 193.2 560.2 192.0 561.0C190.8 561.8 188.9 561.5 188.4 559.0C187.9 556.5 188.3 550.6 189.6 548.4Z" fill="#a5bddb"/>
<path d="M295.0 463.6C296.4 463.0 297.6 463.7 299.0 465.0C300.4 466.3 300.2 469.6 302.0 470.0C303.8 470.4 306.5 465.0 308.0 467.0C309.5 469.0 309.4 474.6 309.6 480.0C309.8 485.4 309.7 488.4 309.0 494.0C308.3 499.6 307.4 502.4 306.0 508.0C304.6 513.6 303.4 517.6 302.0 522.0C300.6 526.4 300.4 526.4 299.0 530.0C297.6 533.6 296.8 536.2 295.0 540.0C293.2 543.8 291.4 545.4 290.0 549.0C288.6 552.6 289.6 554.6 288.0 558.0C286.4 561.4 284.0 564.0 282.0 566.0C280.0 568.0 279.6 565.6 278.0 568.0C276.4 570.4 276.0 574.0 274.0 578.0C272.0 582.0 270.8 583.6 268.0 588.0C265.2 592.4 262.8 596.2 260.0 600.0C257.2 603.8 256.2 605.0 254.0 607.0C251.8 609.0 251.0 607.8 249.0 610.0C247.0 612.2 246.0 615.4 244.0 618.0C242.0 620.6 240.6 621.2 239.0 623.0C237.4 624.8 237.8 625.2 236.0 627.0C234.2 628.8 231.8 629.4 230.0 632.0C228.2 634.6 228.0 636.4 227.0 640.0C226.0 643.6 225.9 644.8 225.0 650.0C224.1 655.2 223.4 660.0 222.4 666.0C221.4 672.0 221.1 675.2 220.0 680.0C218.9 684.8 218.4 687.0 217.0 690.0C215.6 693.0 214.4 694.4 213.0 695.0C211.6 695.6 211.2 695.2 210.0 693.0C208.8 690.8 207.8 688.6 207.0 684.0C206.2 679.4 206.2 676.8 206.0 670.0C205.8 663.2 205.8 658.0 206.0 650.0C206.2 642.0 206.5 638.0 207.0 630.0C207.5 622.0 207.8 616.8 208.4 610.0C209.0 603.2 209.2 602.0 210.0 596.0C210.8 590.0 211.4 585.6 212.4 580.0C213.4 574.4 213.9 572.4 215.0 568.0C216.1 563.6 216.4 561.6 218.0 558.0C219.6 554.4 221.2 553.2 223.0 550.0C224.8 546.8 225.2 545.2 227.0 542.0C228.8 538.8 229.8 536.8 232.0 534.0C234.2 531.2 235.6 530.8 238.0 528.0C240.4 525.2 241.6 523.6 244.0 520.0C246.4 516.4 247.2 514.0 250.0 510.0C252.8 506.0 255.2 503.6 258.0 500.0C260.8 496.4 261.6 495.2 264.0 492.0C266.4 488.8 267.2 486.6 270.0 484.0C272.8 481.4 275.2 481.4 278.0 479.0C280.8 476.6 282.0 473.6 284.0 472.0C286.0 470.4 286.4 471.8 288.0 471.0C289.6 470.2 290.6 469.5 292.0 468.0C293.4 466.5 293.6 464.2 295.0 463.6Z" fill="#a5bddb"/>
<path d="M399.6 569.0C399.6 569.0 400.7 560.2 402.0 556.0C403.3 551.8 404.8 551.2 406.0 548.0C407.2 544.8 407.0 543.2 408.0 540.0C409.0 536.8 409.6 534.2 411.0 532.0C412.4 529.8 413.2 529.8 415.0 529.0C416.8 528.2 418.2 528.0 420.0 528.0C421.8 528.0 422.3 527.9 424.0 529.0C425.7 530.1 427.0 533.0 428.4 533.6C429.8 534.2 429.8 533.0 431.0 532.0C432.2 531.0 432.6 529.0 434.4 528.4C436.2 527.8 437.3 528.9 440.0 529.0C442.7 529.1 445.8 527.8 448.0 529.0C450.2 530.2 449.8 533.0 451.0 535.0C452.2 537.0 452.8 536.0 454.0 539.0C455.2 542.0 455.8 546.5 457.0 550.0C458.2 553.5 458.8 556.0 460.0 556.4C461.2 556.8 461.8 554.5 463.0 552.0C464.2 549.5 464.8 546.6 466.0 544.0C467.2 541.4 467.4 540.6 469.0 539.0C470.6 537.4 471.8 537.5 474.0 536.0C476.2 534.5 477.4 533.4 480.0 531.6C482.6 529.8 484.6 528.4 487.0 527.0C489.4 525.6 490.3 524.2 492.0 524.4C493.7 524.6 494.8 524.9 495.6 528.0C496.4 531.1 496.1 534.8 496.0 540.0C495.9 545.2 495.5 548.2 495.0 554.0C494.5 559.8 493.6 569.0 493.6 569.0C493.6 569.0 399.6 569.0 399.6 569.0Z" fill="#f99fb5"/>
<path d="M548.0 422.0C548.0 422.0 544.4 425.8 542.0 428.0C539.6 430.2 538.2 430.8 536.0 433.0C533.8 435.2 532.7 436.8 531.0 439.0C529.3 441.2 527.6 441.6 527.4 444.0C527.2 446.4 527.9 449.3 530.0 451.0C532.1 452.7 534.4 452.4 538.0 452.4C541.6 452.4 548.0 451.0 548.0 451.0C548.0 451.0 548.0 422.0 548.0 422.0Z" fill="#f99fb5"/>
<path d="M643.0 383.0C643.0 383.0 642.2 387.6 641.0 390.0C639.8 392.4 638.8 392.4 637.0 395.0C635.2 397.6 634.4 400.5 632.0 403.0C629.6 405.5 627.8 406.6 625.0 407.6C622.2 408.6 621.0 407.6 618.0 408.0C615.0 408.4 612.4 408.0 610.0 409.6C607.6 411.2 607.8 413.3 606.0 416.0C604.2 418.7 603.2 420.5 601.0 423.0C598.8 425.5 597.2 427.1 595.0 428.4C592.8 429.7 591.8 428.6 590.0 429.6C588.2 430.6 588.0 432.1 586.0 433.6C584.0 435.1 582.4 435.7 580.0 437.0C577.6 438.3 576.4 438.4 574.0 440.0C571.6 441.6 570.2 443.2 568.0 445.0C565.8 446.8 565.0 447.7 563.0 449.0C561.0 450.3 560.6 451.2 558.0 451.6C555.4 452.0 553.6 450.9 550.0 451.0C546.4 451.1 543.8 452.0 540.0 452.0C536.2 452.0 533.5 452.6 531.0 451.0C528.5 449.4 527.2 446.6 527.4 444.0C527.6 441.4 530.1 440.2 532.0 438.0C533.9 435.8 534.8 435.0 537.0 433.0C539.2 431.0 541.0 430.2 543.0 428.0C545.0 425.8 545.2 423.8 547.0 422.0C548.8 420.2 549.8 420.0 552.0 419.0C554.2 418.0 555.6 418.8 558.0 417.0C560.4 415.2 561.6 413.2 564.0 410.0C566.4 406.8 567.4 403.6 570.0 401.0C572.6 398.4 574.2 398.6 577.0 397.0C579.8 395.4 581.4 394.7 584.0 393.0C586.6 391.3 587.8 389.2 590.0 388.4C592.2 387.6 593.0 389.8 595.0 389.0C597.0 388.2 598.2 385.6 600.0 384.4C601.8 383.2 604.0 383.0 604.0 383.0C604.0 383.0 643.0 383.0 643.0 383.0Z" fill="#f99fb5"/>
<path d="M592.0 515.6C591.0 515.0 590.1 512.9 589.0 511.0C587.9 509.1 586.9 509.0 586.6 506.0C586.3 503.0 586.5 499.2 587.4 496.0C588.3 492.8 589.8 492.3 591.0 490.0C592.2 487.7 592.2 485.9 593.6 484.4C595.0 482.9 596.1 483.1 598.0 482.4C599.9 481.7 601.3 480.8 603.0 481.0C604.7 481.2 605.0 483.5 606.4 483.6C607.8 483.7 608.4 482.1 610.0 481.6C611.6 481.1 613.1 482.5 614.4 481.0C615.7 479.5 615.3 476.2 616.4 474.0C617.5 471.8 618.6 472.0 620.0 470.0C621.4 468.0 622.0 466.0 623.6 464.0C625.2 462.0 626.4 461.7 628.0 460.0C629.6 458.3 629.9 456.6 631.6 455.6C633.3 454.6 635.1 453.7 636.4 455.0C637.7 456.3 637.5 460.0 638.0 462.0C638.5 464.0 639.4 463.2 639.0 465.0C638.6 466.8 637.2 468.0 636.0 471.0C634.8 474.0 634.2 476.6 633.0 480.0C631.8 483.4 631.5 485.2 630.0 488.0C628.5 490.8 627.1 492.2 625.6 494.0C624.1 495.8 623.5 496.2 622.4 497.0C621.3 497.8 621.1 496.8 620.0 498.0C618.9 499.2 618.0 502.6 617.0 503.0C616.0 503.4 616.0 499.6 615.0 500.0C614.0 500.4 613.1 503.4 612.0 505.0C610.9 506.6 610.5 508.4 609.6 508.0C608.7 507.6 608.5 503.8 607.6 503.0C606.7 502.2 605.9 502.8 605.0 504.0C604.1 505.2 604.0 507.8 603.0 509.0C602.0 510.2 601.3 510.0 600.0 510.0C598.7 510.0 597.6 508.2 596.4 509.0C595.2 509.8 594.9 512.7 594.0 514.0C593.1 515.3 593.0 516.2 592.0 515.6Z" fill="#a5bddb"/>
<path d="M638.0 454.4C638.3 453.5 641.2 453.2 641.6 454.0C642.0 454.8 640.7 458.3 640.0 458.4C639.3 458.5 637.7 455.3 638.0 454.4Z" fill="#a5bddb"/>
<path d="M404.0 549.0C404.0 549.0 402.2 553.8 401.0 558.0C399.8 562.2 399.2 565.6 398.0 570.0C396.8 574.4 395.9 575.2 395.0 580.0C394.1 584.8 393.9 588.0 393.6 594.0C393.3 600.0 393.4 603.6 393.6 610.0C393.8 616.4 394.0 620.0 394.4 626.0C394.8 632.0 395.1 634.4 395.6 640.0C396.1 645.6 396.3 649.0 397.0 654.0C397.7 659.0 398.1 662.1 399.0 665.0C399.9 667.9 400.4 668.0 401.6 668.4C402.8 668.8 403.9 668.5 405.0 667.0C406.1 665.5 406.2 662.4 407.0 661.0C407.8 659.6 408.2 659.3 409.0 660.0C409.8 660.7 409.8 663.7 411.0 664.4C412.2 665.1 413.6 662.7 415.0 663.6C416.4 664.5 416.8 666.5 418.0 669.0C419.2 671.5 419.8 673.6 421.0 676.0C422.2 678.4 423.0 679.0 424.0 681.0C425.0 683.0 424.8 684.8 426.0 686.0C427.2 687.2 428.4 687.0 430.0 687.0C431.6 687.0 432.6 687.4 434.0 686.0C435.4 684.6 435.8 680.5 437.0 680.0C438.2 679.5 438.6 682.7 440.0 683.6C441.4 684.5 442.4 683.4 444.0 684.4C445.6 685.4 446.8 687.9 448.0 688.6C449.2 689.3 449.2 689.7 450.0 688.0C450.8 686.3 451.2 683.1 452.0 680.0C452.8 676.9 453.0 674.2 454.0 672.4C455.0 670.6 455.8 672.7 457.0 671.0C458.2 669.3 458.9 667.4 460.0 664.0C461.1 660.6 461.4 658.2 462.4 654.0C463.4 649.8 463.9 647.2 465.0 643.0C466.1 638.8 466.7 635.2 468.0 633.0C469.3 630.8 470.2 633.6 471.6 632.0C473.0 630.4 473.3 627.8 475.0 625.0C476.7 622.2 478.0 621.4 480.0 618.0C482.0 614.6 483.4 612.0 485.0 608.0C486.6 604.0 486.8 602.8 488.0 598.0C489.2 593.2 490.0 589.6 491.0 584.0C492.0 578.4 492.3 575.2 493.0 570.0C493.7 564.8 493.9 562.2 494.4 558.0C494.9 553.8 495.6 549.0 495.6 549.0C495.6 549.0 464.0 549.0 464.0 549.0C464.0 549.0 461.7 557.0 460.4 557.0C459.1 557.0 457.6 549.0 457.6 549.0C457.6 549.0 404.0 549.0 404.0 549.0Z" fill="#f99fb5"/>
<path d="M903.0 637.4C905.0 637.6 905.8 639.1 907.0 640.0C908.2 640.9 908.6 634.4 909.0 642.0C909.4 649.6 909.8 669.2 909.0 678.0C908.2 686.8 906.6 683.2 905.0 686.0C903.4 688.8 902.4 689.6 901.0 692.0C899.6 694.4 899.2 696.1 898.0 698.0C896.8 699.9 896.2 701.6 895.0 701.6C893.8 701.6 893.0 700.7 892.0 698.0C891.0 695.3 890.6 693.2 890.0 688.0C889.4 682.8 889.0 678.4 889.0 672.0C889.0 665.6 889.2 661.6 890.0 656.0C890.8 650.4 891.6 647.4 893.0 644.0C894.4 640.6 895.0 640.3 897.0 639.0C899.0 637.7 901.0 637.2 903.0 637.4Z" fill="#a5bddb"/>
<path d="M148.4 115.0C148.7 113.8 149.4 112.1 150.4 112.0C151.4 111.9 152.6 113.2 153.2 114.4C153.8 115.6 154.0 117.1 153.6 118.0C153.2 118.9 151.9 119.0 151.0 119.0C150.1 119.0 149.5 118.8 149.0 118.0C148.5 117.2 148.1 116.2 148.4 115.0Z" fill="#fbc7c4"/>
<path d="M134.4 127.0C135.0 125.7 136.9 124.5 139.0 123.6C141.1 122.7 143.0 122.1 145.0 122.4C147.0 122.7 147.0 124.4 149.0 125.0C151.0 125.6 153.3 125.1 155.0 125.6C156.7 126.1 158.2 127.0 157.6 127.6C157.0 128.2 154.1 127.9 152.0 128.4C149.9 128.9 149.4 129.4 147.0 130.0C144.6 130.6 142.2 131.6 140.0 131.6C137.8 131.6 137.1 130.9 136.0 130.0C134.9 129.1 133.8 128.3 134.4 127.0Z" fill="#ee5ca0"/>
<path d="M189.6 103.0C190.3 101.0 191.5 99.0 193.0 97.0C194.5 95.0 195.8 93.4 197.0 93.0C198.2 92.6 198.8 93.4 199.0 95.0C199.2 96.6 198.7 98.6 198.0 101.0C197.3 103.4 196.8 105.6 195.6 107.0C194.4 108.4 193.2 108.0 192.0 108.0C190.8 108.0 190.1 108.0 189.6 107.0C189.1 106.0 188.9 105.0 189.6 103.0Z" fill="#ee5ca0"/>
<path d="M345.0 109.0C345.1 106.7 345.7 102.8 346.4 100.0C347.1 97.2 347.9 95.0 348.4 95.0C348.9 95.0 349.2 97.4 349.0 100.0C348.8 102.6 348.2 105.7 347.6 108.0C347.0 110.3 346.5 111.4 346.0 111.6C345.5 111.8 344.9 111.3 345.0 109.0Z" fill="#ee5ca0"/>
<path d="M376.0 105.0C376.0 104.1 376.9 103.4 377.4 103.6C377.9 103.8 378.4 105.1 378.4 106.0C378.4 106.9 377.7 108.2 377.2 108.0C376.7 107.8 376.0 105.9 376.0 105.0Z" fill="#ee5ca0"/>
<path d="M622.4 117.0C621.6 114.8 622.5 110.8 624.0 108.0C625.5 105.2 627.4 104.8 630.0 103.0C632.6 101.2 635.0 98.9 637.0 99.0C639.0 99.1 638.6 102.8 640.0 103.6C641.4 104.4 642.2 103.6 644.0 103.0C645.8 102.4 647.6 100.0 649.0 100.4C650.4 100.8 651.2 103.2 651.0 105.0C650.8 106.8 649.6 108.6 648.0 109.6C646.4 110.6 645.0 109.5 643.0 110.0C641.0 110.5 639.8 110.6 638.0 112.0C636.2 113.4 636.0 115.6 634.0 117.0C632.0 118.4 630.3 119.0 628.0 119.0C625.7 119.0 623.2 119.2 622.4 117.0Z" fill="#67a5cf"/>
<path d="M669.6 106.0C670.6 104.7 673.9 103.8 676.0 102.0C678.1 100.2 677.6 98.8 680.0 97.0C682.4 95.2 684.8 94.8 688.0 93.0C691.2 91.2 692.8 90.0 696.0 88.0C699.2 86.0 701.2 84.2 704.0 83.0C706.8 81.8 707.4 82.1 710.0 82.0C712.6 81.9 715.2 81.7 717.0 82.4C718.8 83.1 719.8 84.1 719.0 85.6C718.2 87.1 715.0 87.7 713.0 90.0C711.0 92.3 710.8 94.6 709.0 97.0C707.2 99.4 706.6 100.2 704.0 102.0C701.4 103.8 699.2 104.9 696.0 106.0C692.8 107.1 691.6 107.1 688.0 107.6C684.4 108.1 681.4 108.2 678.0 108.4C674.6 108.6 672.7 108.9 671.0 108.4C669.3 107.9 668.6 107.3 669.6 106.0Z" fill="#67a5cf"/>
<path d="M686.0 138.0C686.6 136.7 689.2 136.8 692.0 136.0C694.8 135.2 696.8 135.2 700.0 134.0C703.2 132.8 705.6 131.5 708.0 130.0C710.4 128.5 710.6 126.8 712.0 126.4C713.4 126.0 714.6 126.1 715.0 128.0C715.4 129.9 715.4 133.6 714.0 136.0C712.6 138.4 710.6 138.2 708.0 140.0C705.4 141.8 703.6 144.2 701.0 145.0C698.4 145.8 697.4 144.5 695.0 144.0C692.6 143.5 690.8 143.6 689.0 142.4C687.2 141.2 685.4 139.3 686.0 138.0Z" fill="#ee5ca0"/>
<path d="M788.0 43.0C793.9 42.0 811.8 42.0 817.0 43.0C822.2 44.0 815.8 46.4 814.0 48.0C812.2 49.6 810.8 50.8 808.0 51.0C805.2 51.2 802.8 49.6 800.0 49.0C797.2 48.4 796.2 47.4 794.0 48.0C791.8 48.6 790.3 52.0 789.0 52.0C787.7 52.0 787.8 49.8 787.6 48.0C787.4 46.2 782.1 44.0 788.0 43.0Z" fill="#67a5cf"/>
<path d="M865.0 75.0C865.4 73.6 867.8 74.8 870.0 73.0C872.2 71.2 873.6 68.2 876.0 66.0C878.4 63.8 879.4 63.3 882.0 62.0C884.6 60.7 887.0 59.2 889.0 59.6C891.0 60.0 892.4 61.9 892.0 64.0C891.6 66.1 889.4 67.4 887.0 70.0C884.6 72.6 882.6 74.8 880.0 77.0C877.4 79.2 875.8 79.2 874.0 81.0C872.2 82.8 872.2 86.2 871.0 86.0C869.8 85.8 869.2 82.2 868.0 80.0C866.8 77.8 864.6 76.4 865.0 75.0Z" fill="#67a5cf"/>
<path d="M294.4 475.6C296.0 475.8 296.8 477.5 298.0 480.0C299.2 482.5 299.6 484.4 300.4 488.0C301.2 491.6 302.2 494.0 302.0 498.0C301.8 502.0 300.8 503.6 299.6 508.0C298.4 512.4 297.3 516.4 296.0 520.0C294.7 523.6 294.2 523.2 293.0 526.0C291.8 528.8 291.4 531.2 290.0 534.0C288.6 536.8 287.6 537.0 286.0 540.0C284.4 543.0 283.6 546.6 282.0 549.0C280.4 551.4 279.4 549.8 278.0 552.0C276.6 554.2 276.6 556.8 275.0 560.0C273.4 563.2 271.8 564.8 270.0 568.0C268.2 571.2 267.6 573.6 266.0 576.0C264.4 578.4 263.6 577.4 262.0 580.0C260.4 582.6 260.0 585.4 258.0 589.0C256.0 592.6 254.8 594.6 252.0 598.0C249.2 601.4 246.6 603.6 244.0 606.0C241.4 608.4 241.8 608.0 239.0 610.0C236.2 612.0 232.8 613.6 230.0 616.0C227.2 618.4 226.4 619.2 225.0 622.0C223.6 624.8 223.8 626.4 223.0 630.0C222.2 633.6 221.8 635.2 221.0 640.0C220.2 644.8 219.8 648.8 219.0 654.0C218.2 659.2 218.0 663.0 217.0 666.0C216.0 669.0 215.0 669.4 214.0 669.0C213.0 668.6 212.6 667.8 212.0 664.0C211.4 660.2 211.0 656.8 211.0 650.0C211.0 643.2 211.5 638.0 212.0 630.0C212.5 622.0 213.0 616.0 213.6 610.0C214.2 604.0 214.3 604.4 215.0 600.0C215.7 595.6 216.0 592.8 217.0 588.0C218.0 583.2 218.8 580.4 220.0 576.0C221.2 571.6 221.6 570.4 223.0 566.0C224.4 561.6 224.8 558.8 227.0 554.0C229.2 549.2 231.4 546.2 234.0 542.0C236.6 537.8 237.6 536.6 240.0 533.0C242.4 529.4 243.6 527.6 246.0 524.0C248.4 520.4 249.4 518.4 252.0 515.0C254.6 511.6 256.2 510.0 259.0 507.0C261.8 504.0 263.0 502.6 266.0 500.0C269.0 497.4 271.2 496.0 274.0 494.0C276.8 492.0 277.6 492.0 280.0 490.0C282.4 488.0 284.0 486.2 286.0 484.0C288.0 481.8 288.3 480.7 290.0 479.0C291.7 477.3 292.8 475.4 294.4 475.6Z" fill="#67a5cf"/>
<path d="M805.0 43.0C805.8 42.4 810.1 42.5 811.0 43.0C811.9 43.5 810.4 45.0 809.6 45.6C808.8 46.2 807.9 46.5 807.0 46.0C806.1 45.5 804.2 43.6 805.0 43.0Z" fill="#2383bd"/>
<path d="M283.0 494.0C284.5 493.6 284.9 496.5 287.0 497.0C289.1 497.5 292.4 494.6 293.6 496.4C294.8 498.2 293.5 502.3 293.0 506.0C292.5 509.7 292.0 512.4 291.0 515.0C290.0 517.6 289.2 517.6 288.0 519.0C286.8 520.4 286.2 519.8 285.0 522.0C283.8 524.2 283.2 527.4 282.0 530.0C280.8 532.6 280.4 534.2 279.0 535.0C277.6 535.8 276.4 532.6 275.0 534.0C273.6 535.4 273.2 539.0 272.0 542.0C270.8 545.0 270.2 546.2 269.0 549.0C267.8 551.8 267.4 553.4 266.0 556.0C264.6 558.6 263.6 559.2 262.0 562.0C260.4 564.8 260.0 567.8 258.0 570.0C256.0 572.2 254.0 571.4 252.0 573.0C250.0 574.6 249.6 575.8 248.0 578.0C246.4 580.2 245.6 581.2 244.0 584.0C242.4 586.8 242.0 589.6 240.0 592.0C238.0 594.4 236.4 594.8 234.0 596.0C231.6 597.2 230.0 598.4 228.0 598.0C226.0 597.6 225.3 593.0 224.0 594.0C222.7 595.0 222.2 603.4 221.6 603.0C221.0 602.6 220.7 596.6 221.0 592.0C221.3 587.4 221.8 585.6 223.0 580.0C224.2 574.4 225.2 569.4 227.0 564.0C228.8 558.6 229.6 557.4 232.0 553.0C234.4 548.6 236.2 546.2 239.0 542.0C241.8 537.8 243.2 536.0 246.0 532.0C248.8 528.0 250.2 525.8 253.0 522.0C255.8 518.2 257.0 516.0 260.0 513.0C263.0 510.0 265.0 508.8 268.0 507.0C271.0 505.2 272.7 505.6 275.0 504.0C277.3 502.4 278.0 501.0 279.6 499.0C281.2 497.0 281.5 494.4 283.0 494.0Z" fill="#2383bd"/>
<path d="M258.0 538.0C258.2 534.2 258.6 532.3 259.6 530.0C260.6 527.7 261.6 526.8 263.0 526.4C264.4 526.0 265.9 526.1 266.4 528.0C266.9 529.9 266.3 533.0 265.6 536.0C264.9 539.0 264.1 540.6 263.0 543.0C261.9 545.4 260.9 546.8 260.0 548.0C259.1 549.2 259.0 551.0 258.6 549.0C258.2 547.0 257.8 541.8 258.0 538.0Z" fill="#0a68a0"/>
<path d="M236.4 568.0C236.6 566.0 237.3 563.7 238.0 562.0C238.7 560.3 239.5 558.8 240.0 559.6C240.5 560.4 240.6 563.5 240.4 566.0C240.2 568.5 239.7 570.8 239.0 572.0C238.3 573.2 237.5 572.8 237.0 572.0C236.5 571.2 236.2 570.0 236.4 568.0Z" fill="#0a68a0"/>
</g>
<rect x="90.10" y="820.4" width="21.06" height="33.0" fill="#063b5a"/>
<rect x="110.86" y="820.4" width="21.06" height="33.0" fill="#0a68a0"/>
<rect x="131.61" y="820.4" width="21.06" height="33.0" fill="#2383bd"/>
<rect x="152.37" y="820.4" width="21.06" height="33.0" fill="#67a5cf"/>
<rect x="173.13" y="820.4" width="21.06" height="33.0" fill="#a5bddb"/>
<rect x="193.89" y="820.4" width="21.06" height="33.0" fill="#d3d4e8"/>
<rect x="214.64" y="820.4" width="21.06" height="33.0" fill="#ffffff"/>
<rect x="235.40" y="820.4" width="21.06" height="33.0" fill="#ffffff"/>
<rect x="256.16" y="820.4" width="21.06" height="33.0" fill="#fbc7c4"/>
<rect x="276.91" y="820.4" width="21.06" height="33.0" fill="#f99fb5"/>
<rect x="297.67" y="820.4" width="21.06" height="33.0" fill="#ee5ca0"/>
<rect x="318.43" y="820.4" width="21.06" height="33.0" fill="#c2188a"/>
<rect x="339.19" y="820.4" width="21.06" height="33.0" fill="#820a7e"/>
<rect x="359.94" y="820.4" width="21.06" height="33.0" fill="#49066b"/>
<rect x="90.2" y="820.4" width="290.6" height="33.0" fill="none" stroke="#000" stroke-width="1.2"/>
<text x="111.0" y="809.4" font-size="28" text-anchor="middle">-12</text>
<text x="152.5" y="809.4" font-size="28" text-anchor="middle">-8</text>
<text x="194.0" y="809.4" font-size="28" text-anchor="middle">-4</text>
<text x="235.5" y="809.4" font-size="28" text-anchor="middle">0</text>
<text x="277.0" y="809.4" font-size="28" text-anchor="middle">4</text>
<text x="318.5" y="809.4" font-size="28" text-anchor="middle">8</text>
<text x="360.0" y="809.4" font-size="28" text-anchor="middle">12</text>
<g stroke="#000" fill="none" stroke-linecap="butt">
<path d="M86.6 43.3H1183.8" stroke-width="2.6"/>
<path d="M86.6 864.5H1183.8" stroke-width="2.6"/>
<path d="M87.9 43.3V864.5" stroke-width="2.6"/>
<path d="M908.9 43.3V864.5" stroke-width="2.6"/>
<path d="M1182.5 43.3V864.5" stroke-width="2.6"/>
<path d="M78.1 43.3H87.9" stroke-width="2.2"/>
<path d="M78.1 106.5H87.9" stroke-width="2.2"/>
<path d="M78.1 169.6H87.9" stroke-width="2.2"/>
<path d="M78.1 232.8H87.9" stroke-width="2.2"/>
<path d="M78.1 296.0H87.9" stroke-width="2.2"/>
<path d="M78.1 359.1H87.9" stroke-width="2.2"/>
<path d="M78.1 422.3H87.9" stroke-width="2.2"/>
<path d="M78.1 485.5H87.9" stroke-width="2.2"/>
<path d="M78.1 548.7H87.9" stroke-width="2.2"/>
<path d="M78.1 611.8H87.9" stroke-width="2.2"/>
<path d="M78.1 675.0H87.9" stroke-width="2.2"/>
<path d="M78.1 738.2H87.9" stroke-width="2.2"/>
<path d="M78.1 801.3H87.9" stroke-width="2.2"/>
<path d="M78.1 864.5H87.9" stroke-width="2.2"/>
<path d="M87.9 864.5V875.0" stroke-width="2.2"/>
<path d="M156.4 864.5V870.5" stroke-width="1.2"/>
<path d="M225.0 864.5V875.0" stroke-width="2.2"/>
<path d="M293.5 864.5V870.5" stroke-width="1.2"/>
<path d="M362.1 864.5V875.0" stroke-width="2.2"/>
<path d="M430.6 864.5V870.5" stroke-width="1.2"/>
<path d="M499.2 864.5V875.0" stroke-width="2.2"/>
<path d="M567.8 864.5V870.5" stroke-width="1.2"/>
<path d="M636.3 864.5V875.0" stroke-width="2.2"/>
<path d="M704.8 864.5V870.5" stroke-width="1.2"/>
<path d="M773.4 864.5V875.0" stroke-width="2.2"/>
<path d="M841.9 864.5V870.5" stroke-width="1.2"/>
<path d="M977.2 864.5V875.0" stroke-width="2.2"/>
<path d="M955.2 862.9H999.2" stroke-width="1.6"/>
<path d="M1045.5 864.5V875.0" stroke-width="2.2"/>
<path d="M1023.5 862.9H1067.5" stroke-width="1.6"/>
<path d="M1113.8 864.5V875.0" stroke-width="2.2"/>
<path d="M1091.8 862.9H1135.8" stroke-width="1.6"/>
<path d="M1182.5 43.3H1193.0" stroke-width="2.2"/>
<path d="M1182.5 84.4H1189.0" stroke-width="1.2"/>
<path d="M1182.5 125.4H1189.0" stroke-width="1.2"/>
<path d="M1182.5 166.5H1189.0" stroke-width="1.2"/>
<path d="M1182.5 207.5H1189.0" stroke-width="1.2"/>
<path d="M1182.5 248.6H1193.0" stroke-width="2.2"/>
<path d="M1182.5 289.7H1189.0" stroke-width="1.2"/>
<path d="M1182.5 330.7H1189.0" stroke-width="1.2"/>
<path d="M1182.5 371.8H1189.0" stroke-width="1.2"/>
<path d="M1182.5 412.8H1189.0" stroke-width="1.2"/>
<path d="M1182.5 453.9H1193.0" stroke-width="2.2"/>
<path d="M1182.5 495.0H1189.0" stroke-width="1.2"/>
<path d="M1182.5 536.0H1189.0" stroke-width="1.2"/>
<path d="M1182.5 577.1H1189.0" stroke-width="1.2"/>
<path d="M1182.5 618.1H1189.0" stroke-width="1.2"/>
<path d="M1182.5 659.2H1193.0" stroke-width="2.2"/>
<path d="M1182.5 700.3H1189.0" stroke-width="1.2"/>
<path d="M1182.5 741.3H1189.0" stroke-width="1.2"/>
<path d="M1182.5 782.4H1189.0" stroke-width="1.2"/>
<path d="M1182.5 823.4H1189.0" stroke-width="1.2"/>
<path d="M1182.5 864.5H1193.0" stroke-width="2.2"/>
</g>
<text x="75.6" y="53.3" font-size="27" text-anchor="end">2</text>
<text x="75.6" y="116.5" font-size="27" text-anchor="end">6</text>
<text x="75.6" y="179.6" font-size="27" text-anchor="end">12</text>
<text x="75.6" y="242.8" font-size="27" text-anchor="end">22</text>
<text x="75.6" y="306.0" font-size="27" text-anchor="end">35</text>
<text x="75.6" y="369.1" font-size="27" text-anchor="end">53</text>
<text x="75.6" y="432.3" font-size="27" text-anchor="end">75</text>
<text x="75.6" y="495.5" font-size="27" text-anchor="end">104</text>
<text x="75.6" y="558.7" font-size="27" text-anchor="end">141</text>
<text x="75.6" y="621.8" font-size="27" text-anchor="end">188</text>
<text x="75.6" y="685.0" font-size="27" text-anchor="end">248</text>
<text x="75.6" y="748.2" font-size="27" text-anchor="end">323</text>
<text x="75.6" y="811.3" font-size="27" text-anchor="end">416</text>
<text x="75.6" y="874.5" font-size="27" text-anchor="end">528</text>
<text x="87.9" y="898" font-size="27" text-anchor="middle">0</text>
<text x="225.0" y="898" font-size="27" text-anchor="middle">60E</text>
<text x="362.1" y="898" font-size="27" text-anchor="middle">120E</text>
<text x="499.2" y="898" font-size="27" text-anchor="middle">180</text>
<text x="636.3" y="898" font-size="27" text-anchor="middle">120W</text>
<text x="773.4" y="898" font-size="27" text-anchor="middle">60W</text>
<text x="977.2" y="898" font-size="27" text-anchor="middle">k=1</text>
<text x="1045.5" y="898" font-size="27" text-anchor="middle">k=2</text>
<text x="1113.8" y="898" font-size="27" text-anchor="middle">k&gt;2</text>
<text x="1195.5" y="53.3" font-size="27">400</text>
<text x="1195.5" y="258.6" font-size="27">300</text>
<text x="1195.5" y="463.9" font-size="27">200</text>
<text x="1195.5" y="669.2" font-size="27">100</text>
<text x="1195.5" y="874.5" font-size="27">0</text>
<text x="498" y="922.5" font-size="29" text-anchor="middle">Longitude</text>
<text transform="translate(21.5 454) rotate(-90)" font-size="29" text-anchor="middle">Pressure levels (hPa)</text>
<text transform="translate(1275 454) rotate(-90)" font-size="26.6" text-anchor="middle">Energy (J/kg)</text>
<text x="105" y="22.3" font-size="30.2">Zonal wind (Kelvin waves):</text>
<text x="478" y="22.3" font-size="30.2">26/08/2025</text>
<text x="646" y="22.3" font-size="30.2">00 UTC</text>
<text x="767" y="22.3" font-size="30.2">+ 204 hrs</text>
<text transform="translate(1067.8 33.2) scale(1.00 1)" font-size="28.6" text-anchor="middle" style="fill:#222;stroke:#fff;stroke-width:0.4px">M</text>
<text transform="translate(1096.6 33.2) scale(0.87 1)" font-size="28.6" text-anchor="middle" style="fill:#222;stroke:#fff;stroke-width:0.4px">O</text>
<text transform="translate(1122.3 33.2) scale(0.92 1)" font-size="28.6" text-anchor="middle" style="fill:#222;stroke:#fff;stroke-width:0.4px">D</text>
<text transform="translate(1145.9 33.2) scale(0.80 1)" font-size="28.6" text-anchor="middle" style="fill:#222;stroke:#fff;stroke-width:0.4px">E</text>
<text transform="translate(1168.4 33.2) scale(0.81 1)" font-size="28.6" text-anchor="middle" style="fill:#222;stroke:#fff;stroke-width:0.4px">S</text>
<text x="1185" y="18.5" font-size="9" text-anchor="middle" style="fill:#555;stroke:none">©</text>
</svg></body></html>
